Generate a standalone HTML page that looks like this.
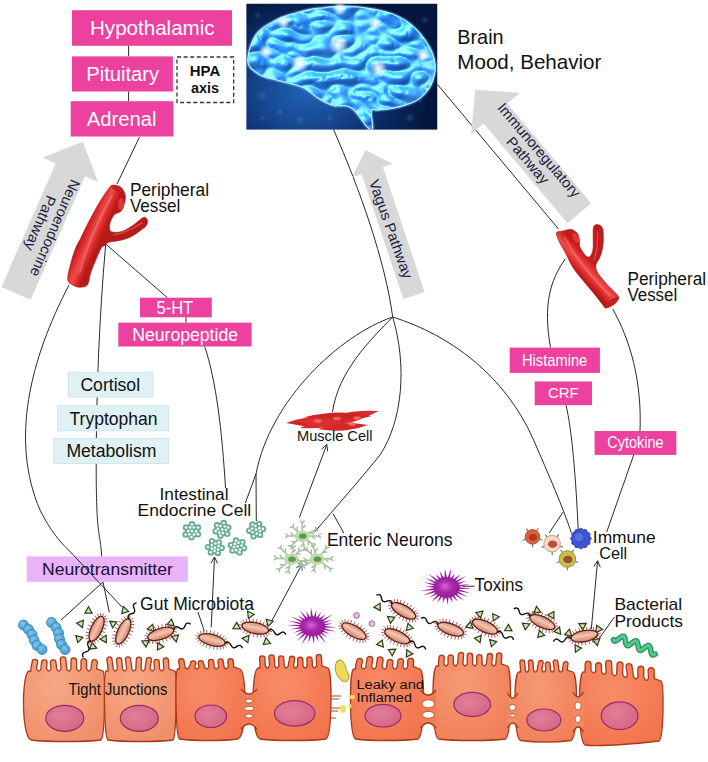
<!DOCTYPE html>
<html><head><meta charset="utf-8"><style>
html,body{margin:0;padding:0;background:#fff;}
body{width:708px;height:762px;overflow:hidden;font-family:"Liberation Sans",sans-serif;}
svg{display:block;}
</style></head><body>
<svg width="708" height="762" viewBox="0 0 708 762" font-family="Liberation Sans, sans-serif">
<rect width="708" height="762" fill="#fff"/>
<defs><linearGradient id="vg" x1="0" y1="0" x2="1" y2="0"><stop offset="0" stop-color="#b51a1a"/><stop offset="0.45" stop-color="#e83a3a"/><stop offset="0.6" stop-color="#f26a6a"/><stop offset="1" stop-color="#c42020"/></linearGradient></defs>
<path d="M128.6,45.8 L128.6,56.4" fill="none" stroke="#2a2a2a" stroke-width="1.0" />
<path d="M128.6,91.5 L128.6,101.2" fill="none" stroke="#2a2a2a" stroke-width="1.0" />
<path d="M139.5,137 L117,184" fill="none" stroke="#2a2a2a" stroke-width="1.0" />
<path d="M105.7,244 C 99,320 96,400 96.2,470 S 100,530 101.7,556.4" fill="none" stroke="#2a2a2a" stroke-width="1.0" />
<path d="M105.7,244 L167.4,297.7" fill="none" stroke="#2a2a2a" stroke-width="1.0" />
<path d="M186,317 L186,322.6" fill="none" stroke="#2a2a2a" stroke-width="1.0" />
<path d="M204.7,346.5 C 216,380 222,430 225.5,488" fill="none" stroke="#2a2a2a" stroke-width="1.0" />
<path d="M69,285 C 30,360 10,440 40,510 C 50,530 60,542 68.6,550" fill="none" stroke="#2a2a2a" stroke-width="1.0" />
<path d="M103,582 L61,620" fill="none" stroke="#2a2a2a" stroke-width="1.0" />
<path d="M103,582 L109.3,612.3" fill="none" stroke="#2a2a2a" stroke-width="1.0" />
<path d="M333.5,129.5 C 360,190 385,260 392.7,317 C 407,365 403,420 380,455 C 360,480 335,508 314.3,532.4" fill="none" stroke="#2a2a2a" stroke-width="1.0" />
<path d="M392.7,317 C 340,335 270,400 256,474 L245.3,503 M256,474 L256.3,521" fill="none" stroke="#2a2a2a" stroke-width="1.0" />
<path d="M392.7,317 C 370,340 338,372 332.5,412" fill="none" stroke="#2a2a2a" stroke-width="1.0" />
<path d="M392.7,317 C 450,335 505,375 533.6,440 C 550,478 562,505 571.4,532.8" fill="none" stroke="#2a2a2a" stroke-width="1.0" />
<path d="M563.3,511.8 L549.3,532.8" fill="none" stroke="#2a2a2a" stroke-width="1.0" />
<path d="M437.5,84.5 L558.5,229" fill="none" stroke="#2a2a2a" stroke-width="1.0" />
<path d="M565.4,258.8 C 550,280 543,305 550.5,347.6" fill="none" stroke="#2a2a2a" stroke-width="1.0" />
<path d="M566,405.2 C 572,430 576,480 578.3,531.8" fill="none" stroke="#2a2a2a" stroke-width="1.0" />
<path d="M612.7,308.9 C 630,340 642,380 640,431" fill="none" stroke="#2a2a2a" stroke-width="1.0" />
<path d="M633.7,455 L606.8,531.8" fill="none" stroke="#2a2a2a" stroke-width="1.0" />
<path d="M211.2,627.4 L214.5,557" fill="none" stroke="#2a2a2a" stroke-width="1.0" />
<path d="M210.9,563.0 L214.5,557.0 L217.5,563.3" fill="none" stroke="#2a2a2a" stroke-width="1.0" />
<path d="M270.4,623.6 L302.2,563.8" fill="none" stroke="#2a2a2a" stroke-width="1.0" />
<path d="M296.4,567.7 L302.2,563.8 L302.2,570.8" fill="none" stroke="#2a2a2a" stroke-width="1.0" />
<path d="M299.4,517.5 L326.8,444.5" fill="none" stroke="#2a2a2a" stroke-width="1.0" />
<path d="M321.6,449.1 L326.8,444.5 L327.7,451.4" fill="none" stroke="#2a2a2a" stroke-width="1.0" />
<path d="M591.3,629.1 L597.6,560.8" fill="none" stroke="#2a2a2a" stroke-width="1.0" />
<path d="M593.8,566.7 L597.6,560.8 L600.3,567.3" fill="none" stroke="#2a2a2a" stroke-width="1.0" />
<path d="M198,612 L204.3,631.2" fill="none" stroke="#2a2a2a" stroke-width="1.0" />
<path d="M333,513.6 L343.8,533" fill="none" stroke="#2a2a2a" stroke-width="1.0" />
<path d="M462.4,586.3 L474.6,586.3" fill="none" stroke="#2a2a2a" stroke-width="1.0" />
<path d="M614.4,617.1 L598,640" fill="none" stroke="#2a2a2a" stroke-width="1.0" />
<polygon points="30.6,299.7 85.0,176.3 98.2,182.1 82.7,141.8 42.5,157.6 55.7,163.4 1.4,286.9" fill="#D8D8D8"/>
<polygon points="424.5,291.9 382.8,166.9 392.4,163.7 365.4,150.1 352.0,177.2 361.6,174.0 403.3,298.9" fill="#D8D8D8"/>
<polygon points="591.2,203.2 507.3,103.6 519.9,93.0 475.3,89.7 470.9,134.2 483.5,123.5 567.4,223.2" fill="#D8D8D8"/>
<rect x="72.0" y="10.2" width="160.0" height="35.6" fill="#EC419F" />
<rect x="72.0" y="56.4" width="100.9" height="35.1" fill="#EC419F" />
<rect x="70.7" y="101.2" width="102.7" height="35.3" fill="#EC419F" />
<rect x="177" y="57" width="56.7" height="45.5" fill="#fff" stroke="#333" stroke-width="1.3" stroke-dasharray="4,2.6"/>
<rect x="140.0" y="297.7" width="71.8" height="19.6" fill="#EC419F" />
<rect x="118.3" y="322.6" width="133.3" height="23.9" fill="#EC419F" />
<rect x="68.5" y="372.2" width="84.4" height="24.80000000000001" fill="#DFF1F3" stroke="#CFE6EA" stroke-width="1"/>
<rect x="57.6" y="405.7" width="110.9" height="25.100000000000023" fill="#DFF1F3" stroke="#CFE6EA" stroke-width="1"/>
<rect x="53.5" y="438.4" width="115" height="25.100000000000023" fill="#DFF1F3" stroke="#CFE6EA" stroke-width="1"/>
<rect x="509.7" y="347.6" width="90.2" height="25.3" fill="#EC419F" />
<rect x="534.7" y="381.4" width="57.3" height="23.8" fill="#EC419F" />
<rect x="594.6" y="431.0" width="81.7" height="23.9" fill="#EC419F" />
<rect x="26.7" y="556.4" width="161.1" height="25.4" fill="#E8B3F8" />
<path d="M68.6,550 L122,607" fill="none" stroke="#2a2a2a" stroke-width="1.0" />
<defs>
<radialGradient id="bbg" gradientUnits="userSpaceOnUse" cx="305" cy="92" r="125" gradientTransform="translate(305 92) scale(1 0.8) translate(-305 -92)"><stop offset="0" stop-color="#2062b4"/><stop offset="0.35" stop-color="#16488f"/><stop offset="0.7" stop-color="#0a2962"/><stop offset="1" stop-color="#05173f"/></radialGradient>
<filter id="bt" x="246.2" y="3.5" width="191.3" height="126.30000000000001" filterUnits="userSpaceOnUse" color-interpolation-filters="sRGB">
  <feTurbulence type="turbulence" baseFrequency="0.045 0.07" numOctaves="1" seed="4" result="n"/>
  <feColorMatrix in="n" type="matrix" values="0 0 0 0 0  0 0 0 0 0  0 0 0 0 0  2 0 0 0 0" result="h0"/>
  <feGaussianBlur in="h0" stdDeviation="0.8" result="h"/>
  <feDiffuseLighting in="h" surfaceScale="4" diffuseConstant="1" lighting-color="#409ce8" result="d"><feDistantLight azimuth="235" elevation="45"/></feDiffuseLighting>
  <feSpecularLighting in="h" surfaceScale="4" specularConstant="0.45" specularExponent="12" lighting-color="#d8f4ff" result="s"><feDistantLight azimuth="235" elevation="45"/></feSpecularLighting>
  <feFlood flood-color="#1652a4" result="a"/>
  <feComposite in="d" in2="a" operator="arithmetic" k1="0" k2="0.75" k3="1" k4="0" result="b0"/>
  <feComposite in="s" in2="b0" operator="arithmetic" k1="0" k2="1" k3="1" k4="0" result="ds"/>
  <feComposite in="ds" in2="SourceGraphic" operator="in"/>
</filter>
<radialGradient id="bshade" gradientUnits="userSpaceOnUse" cx="335" cy="50" r="105"><stop offset="0" stop-color="#bfeaff" stop-opacity="0.12"/><stop offset="0.7" stop-color="#3a90e0" stop-opacity="0"/><stop offset="1" stop-color="#8fdcff" stop-opacity="0.35"/></radialGradient>
<radialGradient id="glow"><stop offset="0" stop-color="#ffffff" stop-opacity="1"/><stop offset="0.4" stop-color="#f4f8ff" stop-opacity="0.7"/><stop offset="1" stop-color="#ffffff" stop-opacity="0"/></radialGradient>
<radialGradient id="bok"><stop offset="0" stop-color="#6fa6e8" stop-opacity="0.25"/><stop offset="1" stop-color="#6fa6e8" stop-opacity="0"/></radialGradient>
<clipPath id="bclip"><rect x="246.2" y="3.5" width="191.3" height="126.30000000000001"/></clipPath>
</defs>
<g clip-path="url(#bclip)">
<rect x="246.2" y="3.5" width="191.3" height="126.30000000000001" fill="url(#bbg)"/>
<circle cx="262" cy="96" r="5" fill="url(#bok)"/>
<circle cx="280" cy="112" r="4" fill="url(#bok)"/>
<circle cx="300" cy="120" r="5" fill="url(#bok)"/>
<circle cx="330" cy="118" r="4" fill="url(#bok)"/>
<circle cx="410" cy="118" r="5" fill="url(#bok)"/>
<circle cx="425" cy="20" r="4" fill="url(#bok)"/>
<circle cx="258" cy="15" r="4" fill="url(#bok)"/>
<circle cx="420" cy="100" r="3" fill="url(#bok)"/>
<circle cx="262" cy="118" r="3" fill="url(#bok)"/>
<path d="M247.8,58.9 C248.1,54.7 249.2,49.9 250.9,45.1 C252.6,40.3 253.7,38.2 256.1,34.7 C258.5,31.2 260.0,30.1 263.1,27.7 C266.2,25.3 267.9,24.6 271.7,22.5 C275.5,20.4 277.2,19.2 282.1,17.3 C287.0,15.4 290.4,14.6 296.0,13.0 C301.6,11.4 304.4,10.5 309.9,9.5 C315.4,8.5 318.2,8.4 323.7,7.8 C329.2,7.2 330.9,6.5 337.6,6.3 C344.3,6.1 349.9,6.3 357.3,6.9 C364.7,7.5 367.8,8.1 374.7,9.5 C381.6,10.9 385.8,11.6 392.0,13.9 C398.2,16.2 401.0,17.7 405.9,20.8 C410.8,23.9 412.5,25.7 416.3,29.5 C420.1,33.3 421.8,35.4 424.9,39.9 C428.0,44.4 429.9,47.2 431.9,52.0 C433.9,56.8 434.5,59.6 435.0,64.1 C435.5,68.6 435.3,70.3 434.5,74.5 C433.7,78.7 432.9,81.1 431.0,84.9 C429.1,88.7 427.8,90.5 424.9,93.6 C422.0,96.7 420.1,98.2 416.3,100.5 C412.5,102.8 410.8,103.3 405.9,104.9 C401.0,106.5 397.6,107.3 392.0,108.3 C386.4,109.3 382.2,109.5 378.1,110.0 C374.0,110.5 372.6,107.4 371.5,111.0 C370.4,114.6 373.3,124.9 372.5,128.2 C371.7,131.5 371.8,131.4 367.7,127.4 C363.6,123.4 357.6,112.6 352.1,108.3 C346.6,104.0 343.6,106.2 340.0,105.7 C336.4,105.2 337.0,106.4 334.1,105.7 C331.2,105.0 329.0,104.0 325.5,102.3 C322.0,100.6 319.9,99.2 316.8,97.1 C313.7,95.0 312.7,93.8 309.9,91.9 C307.1,90.0 306.4,89.1 302.9,87.5 C299.4,85.9 297.3,85.5 292.5,84.1 C287.7,82.7 284.6,82.2 278.7,80.6 C272.8,79.0 268.0,78.2 263.1,76.3 C258.2,74.4 257.2,73.2 254.4,71.1 C251.6,69.0 250.5,68.3 249.2,65.9 C247.9,63.5 247.5,63.1 247.8,58.9 Z" fill="none" stroke="#5cc0ff" stroke-width="4" opacity="0.35"/>
<path d="M247.8,58.9 C248.1,54.7 249.2,49.9 250.9,45.1 C252.6,40.3 253.7,38.2 256.1,34.7 C258.5,31.2 260.0,30.1 263.1,27.7 C266.2,25.3 267.9,24.6 271.7,22.5 C275.5,20.4 277.2,19.2 282.1,17.3 C287.0,15.4 290.4,14.6 296.0,13.0 C301.6,11.4 304.4,10.5 309.9,9.5 C315.4,8.5 318.2,8.4 323.7,7.8 C329.2,7.2 330.9,6.5 337.6,6.3 C344.3,6.1 349.9,6.3 357.3,6.9 C364.7,7.5 367.8,8.1 374.7,9.5 C381.6,10.9 385.8,11.6 392.0,13.9 C398.2,16.2 401.0,17.7 405.9,20.8 C410.8,23.9 412.5,25.7 416.3,29.5 C420.1,33.3 421.8,35.4 424.9,39.9 C428.0,44.4 429.9,47.2 431.9,52.0 C433.9,56.8 434.5,59.6 435.0,64.1 C435.5,68.6 435.3,70.3 434.5,74.5 C433.7,78.7 432.9,81.1 431.0,84.9 C429.1,88.7 427.8,90.5 424.9,93.6 C422.0,96.7 420.1,98.2 416.3,100.5 C412.5,102.8 410.8,103.3 405.9,104.9 C401.0,106.5 397.6,107.3 392.0,108.3 C386.4,109.3 382.2,109.5 378.1,110.0 C374.0,110.5 372.6,107.4 371.5,111.0 C370.4,114.6 373.3,124.9 372.5,128.2 C371.7,131.5 371.8,131.4 367.7,127.4 C363.6,123.4 357.6,112.6 352.1,108.3 C346.6,104.0 343.6,106.2 340.0,105.7 C336.4,105.2 337.0,106.4 334.1,105.7 C331.2,105.0 329.0,104.0 325.5,102.3 C322.0,100.6 319.9,99.2 316.8,97.1 C313.7,95.0 312.7,93.8 309.9,91.9 C307.1,90.0 306.4,89.1 302.9,87.5 C299.4,85.9 297.3,85.5 292.5,84.1 C287.7,82.7 284.6,82.2 278.7,80.6 C272.8,79.0 268.0,78.2 263.1,76.3 C258.2,74.4 257.2,73.2 254.4,71.1 C251.6,69.0 250.5,68.3 249.2,65.9 C247.9,63.5 247.5,63.1 247.8,58.9 Z" fill="#000" filter="url(#bt)"/>
<path d="M247.8,58.9 C248.1,54.7 249.2,49.9 250.9,45.1 C252.6,40.3 253.7,38.2 256.1,34.7 C258.5,31.2 260.0,30.1 263.1,27.7 C266.2,25.3 267.9,24.6 271.7,22.5 C275.5,20.4 277.2,19.2 282.1,17.3 C287.0,15.4 290.4,14.6 296.0,13.0 C301.6,11.4 304.4,10.5 309.9,9.5 C315.4,8.5 318.2,8.4 323.7,7.8 C329.2,7.2 330.9,6.5 337.6,6.3 C344.3,6.1 349.9,6.3 357.3,6.9 C364.7,7.5 367.8,8.1 374.7,9.5 C381.6,10.9 385.8,11.6 392.0,13.9 C398.2,16.2 401.0,17.7 405.9,20.8 C410.8,23.9 412.5,25.7 416.3,29.5 C420.1,33.3 421.8,35.4 424.9,39.9 C428.0,44.4 429.9,47.2 431.9,52.0 C433.9,56.8 434.5,59.6 435.0,64.1 C435.5,68.6 435.3,70.3 434.5,74.5 C433.7,78.7 432.9,81.1 431.0,84.9 C429.1,88.7 427.8,90.5 424.9,93.6 C422.0,96.7 420.1,98.2 416.3,100.5 C412.5,102.8 410.8,103.3 405.9,104.9 C401.0,106.5 397.6,107.3 392.0,108.3 C386.4,109.3 382.2,109.5 378.1,110.0 C374.0,110.5 372.6,107.4 371.5,111.0 C370.4,114.6 373.3,124.9 372.5,128.2 C371.7,131.5 371.8,131.4 367.7,127.4 C363.6,123.4 357.6,112.6 352.1,108.3 C346.6,104.0 343.6,106.2 340.0,105.7 C336.4,105.2 337.0,106.4 334.1,105.7 C331.2,105.0 329.0,104.0 325.5,102.3 C322.0,100.6 319.9,99.2 316.8,97.1 C313.7,95.0 312.7,93.8 309.9,91.9 C307.1,90.0 306.4,89.1 302.9,87.5 C299.4,85.9 297.3,85.5 292.5,84.1 C287.7,82.7 284.6,82.2 278.7,80.6 C272.8,79.0 268.0,78.2 263.1,76.3 C258.2,74.4 257.2,73.2 254.4,71.1 C251.6,69.0 250.5,68.3 249.2,65.9 C247.9,63.5 247.5,63.1 247.8,58.9 Z" fill="url(#bshade)" stroke="#b6ecff" stroke-width="1.3"/>
<circle cx="338.3" cy="44.5" r="10" fill="url(#glow)"/>
<circle cx="299.8" cy="63.8" r="9" fill="url(#glow)"/>
<circle cx="265.7" cy="51.9" r="7" fill="url(#glow)"/>
<circle cx="378.4" cy="68.2" r="9" fill="url(#glow)"/>
<circle cx="283.5" cy="22.2" r="7" fill="url(#glow)"/>
<circle cx="375.4" cy="23.7" r="7" fill="url(#glow)"/>
<circle cx="422.9" cy="54.9" r="7" fill="url(#glow)"/>
<circle cx="339.8" cy="8.9" r="7" fill="url(#glow)"/>
</g>
<defs>
<linearGradient id="vgl" gradientUnits="userSpaceOnUse" x1="79" y1="239" x2="97" y2="247"><stop offset="0" stop-color="#b01616"/><stop offset="0.22" stop-color="#d82626"/><stop offset="0.55" stop-color="#ee4c4c"/><stop offset="0.75" stop-color="#e02e2e"/><stop offset="1" stop-color="#b81a1a"/></linearGradient>
<linearGradient id="vgr" gradientUnits="userSpaceOnUse" x1="578" y1="275" x2="592" y2="262"><stop offset="0" stop-color="#b01616"/><stop offset="0.25" stop-color="#d82626"/><stop offset="0.55" stop-color="#ee4c4c"/><stop offset="0.78" stop-color="#e02e2e"/><stop offset="1" stop-color="#c01c1c"/></linearGradient>
</defs>
<path d="M67.7,279.5 C67.3,275.7 69.7,267.9 71.0,262.6 C72.3,257.4 74.0,252.2 75.7,248.0 C77.4,243.8 79.4,240.7 81.0,237.5 C82.6,234.3 83.8,231.7 85.2,228.8 C86.6,225.9 87.8,223.6 89.6,220.2 C91.4,216.8 93.7,212.3 96.0,208.3 C98.3,204.3 101.3,199.4 103.3,196.3 C105.3,193.2 106.6,191.3 108.0,189.5 C109.4,187.7 110.3,185.8 111.6,185.3 C112.9,184.8 114.5,186.0 116.0,186.5 C117.5,187.0 119.2,187.8 120.5,188.5 C121.8,189.2 122.7,189.5 123.5,190.8 C124.3,192.1 125.2,194.2 125.4,196.3 C125.6,198.5 124.9,201.6 124.4,203.7 C123.9,205.8 123.2,207.6 122.5,209.0 C121.8,210.4 121.2,211.1 119.9,212.0 C118.6,212.9 115.9,213.2 114.4,214.7 C112.9,216.2 111.5,219.0 110.7,221.1 C109.9,223.2 109.4,225.7 109.5,227.5 C109.6,229.3 109.5,231.1 111.5,231.8 C113.5,232.5 118.2,232.7 121.7,231.6 C125.2,230.5 129.3,227.7 132.7,225.5 C136.1,223.3 139.8,219.5 141.9,218.2 C144.1,216.9 144.7,217.0 145.6,217.6 C146.5,218.2 147.5,220.1 147.6,221.5 C147.7,222.9 146.9,224.7 146.0,226.0 C145.1,227.3 144.4,227.6 141.9,229.4 C139.4,231.2 134.6,234.9 130.9,236.7 C127.2,238.5 123.6,239.5 119.9,240.4 C116.2,241.3 111.5,241.3 108.9,242.2 C106.3,243.0 105.8,244.5 104.5,245.5 C103.2,246.5 102.5,245.8 101.0,248.4 C99.5,251.0 97.1,256.9 95.4,261.0 C93.7,265.1 92.0,268.8 90.7,272.8 C89.4,276.8 89.2,282.4 87.5,284.8 C85.8,287.2 82.8,287.1 80.5,287.2 C78.2,287.3 75.5,286.7 73.4,285.4 C71.3,284.1 68.1,283.3 67.7,279.5 Z" fill="url(#vgl)" stroke="#a81414" stroke-width="0.6"/>
<path d="M80,272 C 86,250 95,225 112,196" fill="none" stroke="#f47a7a" stroke-width="2" opacity="0.55" stroke-linecap="round"/>
<path d="M114,235 C 124,233 134,228 142,223" fill="none" stroke="#f06a6a" stroke-width="1.5" opacity="0.5" stroke-linecap="round"/>
<ellipse cx="117.5" cy="188.5" rx="6.5" ry="3" fill="#c42020" transform="rotate(25 117.5 188.5)"/>
<ellipse cx="121" cy="204" rx="3" ry="6" fill="#ee3a3a" opacity="0.8"/>
<path d="M556.4,232.7 C555.6,234.2 557.6,237.8 558.5,240.0 C559.4,242.2 560.2,243.7 561.5,246.0 C562.8,248.3 564.1,250.5 566.0,254.0 C567.9,257.5 569.6,262.4 572.6,267.0 C575.6,271.6 580.1,276.9 583.9,281.6 C587.7,286.3 592.1,291.4 595.2,295.2 C598.3,299.0 600.8,302.4 602.5,304.5 C604.2,306.6 604.2,307.8 605.5,308.0 C606.8,308.2 608.2,306.6 610.0,305.5 C611.8,304.4 614.5,302.4 616.0,301.2 C617.5,299.9 618.5,298.9 618.8,298.0 C619.1,297.1 618.9,296.9 617.8,295.5 C616.7,294.1 613.9,291.4 612.0,289.5 C610.1,287.6 608.2,285.8 606.5,283.9 C604.8,282.0 603.0,279.9 601.5,278.0 C600.0,276.1 598.5,274.4 597.5,272.6 C596.5,270.9 596.0,269.1 595.8,267.5 C595.6,265.9 596.0,264.3 596.5,263.0 C597.0,261.7 598.0,261.2 598.8,259.5 C599.6,257.8 600.7,255.4 601.4,253.0 C602.1,250.6 602.7,247.7 603.0,245.0 C603.3,242.3 603.4,239.6 603.4,237.0 C603.4,234.4 603.2,231.3 602.8,229.5 C602.4,227.7 601.9,226.8 601.0,226.0 C600.1,225.2 598.6,224.7 597.5,224.6 C596.4,224.5 595.2,224.8 594.5,225.5 C593.8,226.2 593.4,227.1 593.2,229.0 C593.0,230.9 593.2,234.2 593.2,237.0 C593.2,239.8 593.3,243.6 593.2,246.0 C593.1,248.4 593.1,249.7 592.5,251.5 C591.9,253.3 590.9,256.1 589.8,256.8 C588.7,257.6 587.2,256.9 586.0,256.0 C584.8,255.1 583.5,253.1 582.5,251.5 C581.5,249.9 580.3,248.4 579.8,246.5 C579.3,244.6 579.7,242.3 579.4,240.3 C579.1,238.3 578.8,236.0 578.0,234.4 C577.2,232.8 575.8,231.8 574.5,231.0 C573.2,230.2 572.2,229.3 570.3,229.3 C568.4,229.3 565.3,230.4 563.0,231.0 C560.7,231.6 557.1,231.2 556.4,232.7 Z" fill="url(#vgr)" stroke="#a81414" stroke-width="0.6"/>
<path d="M565,238 C 575,256 590,276 610,296" fill="none" stroke="#f47a7a" stroke-width="2" opacity="0.55" stroke-linecap="round"/>
<path d="M597.5,232 C 598,242 597,252 594,260" fill="none" stroke="#f06a6a" stroke-width="1.5" opacity="0.5" stroke-linecap="round"/>
<ellipse cx="612" cy="302.5" rx="8.5" ry="3" fill="#c42020" transform="rotate(-38 612 302.5)"/>
<ellipse cx="576" cy="238" rx="3" ry="5.5" fill="#ee3a3a" opacity="0.8" transform="rotate(-30 576 238)"/>
<defs>
<radialGradient id="c1" cx="0.4" cy="0.35" r="0.75"><stop offset="0" stop-color="#f6a886"/><stop offset="1" stop-color="#f08e68"/></radialGradient>
<radialGradient id="c2" cx="0.4" cy="0.35" r="0.75"><stop offset="0" stop-color="#f78d68"/><stop offset="1" stop-color="#f2734c"/></radialGradient>
<radialGradient id="c3" cx="0.4" cy="0.35" r="0.75"><stop offset="0" stop-color="#f69a76"/><stop offset="1" stop-color="#f17e58"/></radialGradient>
<radialGradient id="nu" cx="0.4" cy="0.4" r="0.7"><stop offset="0" stop-color="#e28098"/><stop offset="1" stop-color="#d46484"/></radialGradient>
</defs>
<path d="M29.0,671.0 L31.0,671.0 L31.0,668.8 C31.0,666.4 32.1,663.2 32.1,662.2 A2.8,2.8 0 0 1 37.7,662.2 C37.7,663.2 36.6,666.4 36.6,668.8 Q38.8,673.2 41.0,668.8 L41.0,668.8 C41.0,666.5 41.5,663.6 41.5,662.6 A2.8,2.8 0 0 1 47.1,662.6 C47.1,663.6 46.6,666.5 46.6,668.8 Q48.8,673.2 51.0,668.8 L51.0,668.8 C51.0,666.6 50.4,663.7 50.4,662.7 A2.8,2.8 0 0 1 56.0,662.7 C56.0,663.7 56.6,666.6 56.6,668.8 Q58.8,673.2 61.0,668.8 L61.0,668.8 C61.0,665.3 60.3,660.6 60.3,659.6 A2.8,2.8 0 0 1 65.9,659.6 C65.9,660.6 66.6,665.3 66.6,668.8 Q68.8,673.2 71.0,668.8 L71.0,668.8 C71.0,665.8 70.9,661.8 70.9,660.8 A2.8,2.8 0 0 1 76.5,660.8 C76.5,661.8 76.6,665.8 76.6,668.8 Q78.8,673.2 81.0,668.8 L81.0,668.8 C81.0,666.1 81.0,662.5 81.0,661.5 A2.8,2.8 0 0 1 86.6,661.5 C86.6,662.5 86.6,666.1 86.6,668.8 Q88.8,673.2 91.0,668.8 L91.0,668.8 C91.0,666.4 91.8,663.4 91.8,662.4 A2.8,2.8 0 0 1 97.4,662.4 C97.4,663.4 96.6,666.4 96.6,668.8 L103.0,671.0 C105.3,673.0 105.3,736.0 101.0,740.0 C85.0,742.0 47.0,742.0 31.0,740.0 C21.1,736.0 21.6,673.0 29.0,671.0 Z" fill="url(#c1)" stroke="#a83a1a" stroke-width="1.3" stroke-linejoin="round"/>
<path d="M106.0,671.0 L108.0,671.0 L108.0,669.0 C108.0,665.4 106.8,660.5 106.8,659.5 A2.6,2.6 0 0 1 112.0,659.5 C112.0,660.5 113.2,665.4 113.2,669.0 Q115.2,673.0 117.3,669.0 L117.3,669.0 C117.3,665.7 116.5,661.3 116.5,660.3 A2.6,2.6 0 0 1 121.7,660.3 C121.7,661.3 122.5,665.7 122.5,669.0 Q124.5,673.0 126.6,669.0 L126.6,669.0 C126.6,665.3 125.4,660.5 125.4,659.5 A2.6,2.6 0 0 1 130.6,659.5 C130.6,660.5 131.8,665.3 131.8,669.0 Q133.8,673.0 135.9,669.0 L135.9,669.0 C135.9,665.5 136.3,660.8 136.3,659.8 A2.6,2.6 0 0 1 141.5,659.8 C141.5,660.8 141.1,665.5 141.1,669.0 Q143.1,673.0 145.1,669.0 L145.1,669.0 C145.1,665.5 146.3,660.9 146.3,659.9 A2.6,2.6 0 0 1 151.5,659.9 C151.5,660.9 150.3,665.5 150.3,669.0 Q152.4,673.0 154.4,669.0 L154.4,669.0 C154.4,666.4 154.0,663.0 154.0,662.0 A2.6,2.6 0 0 1 159.2,662.0 C159.2,663.0 159.6,666.4 159.6,669.0 Q161.7,673.0 163.7,669.0 L163.7,669.0 C163.7,665.7 163.2,661.4 163.2,660.4 A2.6,2.6 0 0 1 168.4,660.4 C168.4,661.4 168.9,665.7 168.9,669.0 L175.0,671.0 C176.7,673.0 176.7,736.0 173.0,740.0 C157.0,742.0 124.0,742.0 108.0,740.0 C103.7,736.0 103.7,673.0 106.0,671.0 Z" fill="url(#c1)" stroke="#a83a1a" stroke-width="1.3" stroke-linejoin="round"/>
<path d="M177.5,669.0 L179.5,669.0 L179.5,666.9 C179.5,664.8 178.6,662.3 178.6,661.3 A2.7,2.7 0 0 1 184.1,661.3 C184.1,662.3 185.0,664.8 185.0,666.9 Q187.1,671.1 189.2,666.9 L189.2,666.9 C189.2,665.8 190.4,664.7 190.4,663.7 A2.7,2.7 0 0 1 195.9,663.7 C195.9,664.7 194.7,665.8 194.7,666.9 Q196.9,671.1 199.0,666.9 L199.0,666.9 C199.0,665.6 198.1,664.3 198.1,663.3 A2.7,2.7 0 0 1 203.5,663.3 C203.5,664.3 204.5,665.6 204.5,666.9 Q206.6,671.1 208.8,666.9 L208.8,666.9 C208.8,665.1 208.4,663.1 208.4,662.1 A2.7,2.7 0 0 1 213.8,662.1 C213.8,663.1 214.2,665.1 214.2,666.9 Q216.4,671.1 218.5,666.9 L218.5,666.9 C218.5,664.9 217.9,662.5 217.9,661.5 A2.7,2.7 0 0 1 223.3,661.5 C223.3,662.5 224.0,664.9 224.0,666.9 Q226.1,671.1 228.2,666.9 L228.2,666.9 C228.2,664.8 227.8,662.3 227.8,661.3 A2.7,2.7 0 0 1 233.3,661.3 C233.3,662.3 233.7,664.8 233.7,666.9 L240.0,669.0 C246.8,671.0 247.2,735.0 238.0,739.0 C222.0,741.0 195.5,741.0 179.5,739.0 C175.2,735.0 175.2,671.0 177.5,669.0 Z" fill="url(#c2)" stroke="#a83a1a" stroke-width="1.3" stroke-linejoin="round"/>
<path d="M258.0,668.0 L260.0,668.0 L260.0,665.9 C260.0,663.1 259.6,659.5 259.6,658.5 A2.6,2.6 0 0 1 264.9,658.5 C264.9,659.5 265.3,663.1 265.3,665.9 Q267.4,670.1 269.4,665.9 L269.4,665.9 C269.4,662.7 268.9,658.5 268.9,657.5 A2.6,2.6 0 0 1 274.2,657.5 C274.2,658.5 274.7,662.7 274.7,665.9 Q276.8,670.1 278.9,665.9 L278.9,665.9 C278.9,663.2 278.5,659.6 278.5,658.6 A2.6,2.6 0 0 1 283.8,658.6 C283.8,659.6 284.1,663.2 284.1,665.9 Q286.2,670.1 288.3,665.9 L288.3,665.9 C288.3,663.3 289.4,659.9 289.4,658.9 A2.6,2.6 0 0 1 294.7,658.9 C294.7,659.9 293.6,663.3 293.6,665.9 Q295.6,670.1 297.7,665.9 L297.7,665.9 C297.7,663.7 297.6,660.9 297.6,659.9 A2.6,2.6 0 0 1 302.9,659.9 C302.9,660.9 303.0,663.7 303.0,665.9 Q305.1,670.1 307.1,665.9 L307.1,665.9 C307.1,663.5 306.8,660.5 306.8,659.5 A2.6,2.6 0 0 1 312.1,659.5 C312.1,660.5 312.4,663.5 312.4,665.9 Q314.5,670.1 316.6,665.9 L316.6,665.9 C316.6,662.5 316.2,658.0 316.2,657.0 A2.6,2.6 0 0 1 321.4,657.0 C321.4,658.0 321.9,662.5 321.9,665.9 L328.0,668.0 C332.2,670.0 332.4,735.0 326.0,739.0 C310.0,741.0 276.0,741.0 260.0,739.0 C250.8,735.0 251.2,670.0 258.0,668.0 Z" fill="url(#c2)" stroke="#a83a1a" stroke-width="1.3" stroke-linejoin="round"/>
<path d="M353.5,669.0 L355.5,669.0 L355.5,666.7 C355.5,664.8 356.7,662.3 356.7,661.3 A2.9,2.9 0 0 1 362.5,661.3 C362.5,662.3 361.3,664.8 361.3,666.7 Q363.6,671.3 365.9,666.7 L365.9,666.7 C365.9,664.0 366.9,660.4 366.9,659.4 A2.9,2.9 0 0 1 372.8,659.4 C372.8,660.4 371.7,664.0 371.7,666.7 Q374.0,671.3 376.3,666.7 L376.3,666.7 C376.3,664.2 377.2,660.9 377.2,659.9 A2.9,2.9 0 0 1 383.1,659.9 C383.1,660.9 382.2,664.2 382.2,666.7 Q384.5,671.3 386.7,666.7 L386.7,666.7 C386.7,665.2 387.1,663.3 387.1,662.3 A2.9,2.9 0 0 1 392.9,662.3 C392.9,663.3 392.6,665.2 392.6,666.7 Q394.9,671.3 397.2,666.7 L397.2,666.7 C397.2,664.9 397.7,662.6 397.7,661.6 A2.9,2.9 0 0 1 403.6,661.6 C403.6,662.6 403.0,664.9 403.0,666.7 Q405.3,671.3 407.6,666.7 L407.6,666.7 C407.6,664.6 407.7,662.0 407.7,661.0 A2.9,2.9 0 0 1 413.6,661.0 C413.6,662.0 413.4,664.6 413.4,666.7 L420.0,669.0 C424.9,671.0 425.1,735.0 418.0,739.0 C402.0,741.0 371.5,741.0 355.5,739.0 C349.1,735.0 349.3,671.0 353.5,669.0 Z" fill="url(#c2)" stroke="#a83a1a" stroke-width="1.3" stroke-linejoin="round"/>
<path d="M436.5,666.0 L438.5,666.0 L438.5,663.9 C438.5,661.5 439.0,658.3 439.0,657.3 A2.7,2.7 0 0 1 444.3,657.3 C444.3,658.3 443.9,661.5 443.9,663.9 Q446.0,668.1 448.1,663.9 L448.1,663.9 C448.1,661.3 448.0,658.0 448.0,657.0 A2.7,2.7 0 0 1 453.3,657.0 C453.3,658.0 453.4,661.3 453.4,663.9 Q455.5,668.1 457.6,663.9 L457.6,663.9 C457.6,660.6 458.3,656.1 458.3,655.1 A2.7,2.7 0 0 1 463.7,655.1 C463.7,656.1 463.0,660.6 463.0,663.9 Q465.1,668.1 467.2,663.9 L467.2,663.9 C467.2,660.9 467.2,656.9 467.2,655.9 A2.7,2.7 0 0 1 472.6,655.9 C472.6,656.9 472.6,660.9 472.6,663.9 Q474.7,668.1 476.8,663.9 L476.8,663.9 C476.8,661.5 476.6,658.4 476.6,657.4 A2.7,2.7 0 0 1 482.0,657.4 C482.0,658.4 482.1,661.5 482.1,663.9 Q484.3,668.1 486.4,663.9 L486.4,663.9 C486.4,661.0 487.2,657.2 487.2,656.2 A2.7,2.7 0 0 1 492.6,656.2 C492.6,657.2 491.7,661.0 491.7,663.9 Q493.8,668.1 495.9,663.9 L495.9,663.9 C495.9,660.8 496.5,656.6 496.5,655.6 A2.7,2.7 0 0 1 501.9,655.6 C501.9,656.6 501.3,660.8 501.3,663.9 L507.5,666.0 C511.7,668.0 511.9,735.0 505.5,739.0 C489.5,741.0 454.5,741.0 438.5,739.0 C431.4,735.0 431.6,668.0 436.5,666.0 Z" fill="url(#c3)" stroke="#a83a1a" stroke-width="1.3" stroke-linejoin="round"/>
<path d="M518.5,672.0 L520.5,672.0 L520.5,670.1 C520.5,667.2 519.9,663.3 519.9,662.3 A2.4,2.4 0 0 1 524.7,662.3 C524.7,663.3 525.2,667.2 525.2,670.1 Q527.1,673.9 528.9,670.1 L528.9,670.1 C528.9,667.0 528.3,662.9 528.3,661.9 A2.4,2.4 0 0 1 533.0,661.9 C533.0,662.9 533.6,667.0 533.6,670.1 Q535.5,673.9 537.3,670.1 L537.3,670.1 C537.3,667.2 538.5,663.4 538.5,662.4 A2.4,2.4 0 0 1 543.2,662.4 C543.2,663.4 542.0,667.2 542.0,670.1 Q543.9,673.9 545.8,670.1 L545.8,670.1 C545.8,667.7 545.3,664.7 545.3,663.7 A2.4,2.4 0 0 1 550.0,663.7 C550.0,664.7 550.5,667.7 550.5,670.1 Q552.3,673.9 554.2,670.1 L554.2,670.1 C554.2,667.0 553.2,662.8 553.2,661.8 A2.4,2.4 0 0 1 557.9,661.8 C557.9,662.8 558.9,667.0 558.9,670.1 Q560.7,673.9 562.6,670.1 L562.6,670.1 C562.6,667.6 563.4,664.5 563.4,663.5 A2.4,2.4 0 0 1 568.1,663.5 C568.1,664.5 567.3,667.6 567.3,670.1 L573.0,672.0 C577.9,674.0 578.1,736.5 571.0,740.5 C555.0,742.5 536.5,742.5 520.5,740.5 C513.4,736.5 513.6,674.0 518.5,672.0 Z" fill="url(#c3)" stroke="#a83a1a" stroke-width="1.3" stroke-linejoin="round"/>
<path d="M583.0,672.0 L585.0,672.0 L585.0,669.7 C585.0,667.5 585.2,664.6 585.2,663.6 A3.0,3.0 0 0 1 591.1,663.6 C591.1,664.6 590.9,667.5 590.9,669.7 Q593.2,675.1 595.6,671.2 L595.6,671.2 C595.6,669.0 595.6,666.2 595.6,665.2 A3.0,3.0 0 0 1 601.5,665.2 C601.5,666.2 601.5,669.0 601.5,671.2 Q603.8,676.6 606.1,672.7 L606.1,672.7 C606.1,669.2 605.6,664.3 605.6,663.3 A3.0,3.0 0 0 1 611.6,663.3 C611.6,664.3 612.1,669.2 612.1,672.7 Q614.4,678.1 616.7,674.2 L616.7,674.2 C616.7,670.7 617.0,665.9 617.0,664.9 A3.0,3.0 0 0 1 623.0,664.9 C623.0,665.9 622.6,670.7 622.6,674.2 Q625.0,679.6 627.3,675.7 L627.3,675.7 C627.3,672.3 626.1,667.7 626.1,666.7 A3.0,3.0 0 0 1 632.1,666.7 C632.1,667.7 633.2,672.3 633.2,675.7 Q635.5,681.1 637.9,677.2 L637.9,677.2 C637.9,674.0 637.9,669.7 637.9,668.7 A3.0,3.0 0 0 1 643.8,668.7 C643.8,669.7 643.8,674.0 643.8,677.2 Q646.1,682.6 648.4,678.7 L648.4,678.7 C648.4,675.7 648.1,671.6 648.1,670.6 A3.0,3.0 0 0 1 654.1,670.6 C654.1,671.6 654.3,675.7 654.3,678.7 L661.0,681.0 C664.0,683.0 664.0,737.0 659.0,741.0 C643.0,743.0 601.0,747.0 585.0,745.0 C577.9,741.0 578.1,674.0 583.0,672.0 Z" fill="url(#c2)" stroke="#a83a1a" stroke-width="1.3" stroke-linejoin="round"/>
<path d="M241,689 Q249.0,699 257,689 L257,729 Q249.0,719 241,729 Z" fill="#f47c55"/>
<path d="M241,689 Q249.0,699 257,689 M241,729 Q249.0,719 257,729" fill="none" stroke="#a83a1a" stroke-width="1.3"/>
<path d="M420.5,690 Q428.25,700 436,690 L436,728 Q428.25,718 420.5,728 Z" fill="#f47c55"/>
<path d="M420.5,690 Q428.25,700 436,690 M420.5,728 Q428.25,718 436,728" fill="none" stroke="#a83a1a" stroke-width="1.3"/>
<path d="M507.5,693 Q512.75,703 518,693 L518,728 Q512.75,718 507.5,728 Z" fill="#f38a62"/>
<path d="M507.5,693 Q512.75,703 518,693 M507.5,728 Q512.75,718 518,728" fill="none" stroke="#a83a1a" stroke-width="1.3"/>
<path d="M573,692 Q578.25,702 583.5,692 L583.5,732 Q578.25,722 573,732 Z" fill="#f38a62"/>
<path d="M573,692 Q578.25,702 583.5,692 M573,732 Q578.25,722 583.5,732" fill="none" stroke="#a83a1a" stroke-width="1.3"/>
<ellipse cx="64.8" cy="718.3" rx="19" ry="13" fill="url(#nu)" stroke="#9a2c68" stroke-width="1.2"/>
<ellipse cx="139.3" cy="718.3" rx="19" ry="13" fill="url(#nu)" stroke="#9a2c68" stroke-width="1.2"/>
<ellipse cx="210.8" cy="716.3" rx="15.8" ry="11.3" fill="url(#nu)" stroke="#9a2c68" stroke-width="1.2"/>
<ellipse cx="294.7" cy="713.4" rx="20.2" ry="12.7" fill="url(#nu)" stroke="#9a2c68" stroke-width="1.2"/>
<ellipse cx="383" cy="715.7" rx="18" ry="11.3" fill="url(#nu)" stroke="#9a2c68" stroke-width="1.2"/>
<ellipse cx="472.2" cy="704.4" rx="18.4" ry="12" fill="url(#nu)" stroke="#9a2c68" stroke-width="1.2"/>
<ellipse cx="543.9" cy="720" rx="17" ry="11" fill="url(#nu)" stroke="#9a2c68" stroke-width="1.2"/>
<ellipse cx="619.6" cy="715.7" rx="18.4" ry="13.8" fill="url(#nu)" stroke="#9a2c68" stroke-width="1.2"/>
<ellipse cx="249" cy="701" rx="4" ry="2" fill="#fff" stroke="#b5401c" stroke-width="0.8"/>
<ellipse cx="249" cy="708.5" rx="4.5" ry="2.2" fill="#fff" stroke="#b5401c" stroke-width="0.8"/>
<ellipse cx="249" cy="716" rx="4" ry="2" fill="#fff" stroke="#b5401c" stroke-width="0.8"/>
<ellipse cx="428.3" cy="703.8" rx="6.3" ry="4" fill="#fff" stroke="#b5401c" stroke-width="0.8"/>
<ellipse cx="428.3" cy="714.8" rx="6" ry="3.4" fill="#fff" stroke="#b5401c" stroke-width="0.8"/>
<ellipse cx="512.5" cy="707.5" rx="3.5" ry="3" fill="#fff" stroke="#b5401c" stroke-width="0.8"/>
<ellipse cx="512.5" cy="715.5" rx="3" ry="1.5" fill="#fff" stroke="#b5401c" stroke-width="0.8"/>
<ellipse cx="578" cy="706" rx="3.2" ry="4" fill="#fff" stroke="#b5401c" stroke-width="0.8"/>
<ellipse cx="578" cy="719" rx="3" ry="3.5" fill="#fff" stroke="#b5401c" stroke-width="0.8"/>
<path d="M331,696 L341,696 M331,699 L339,699 M331,708 L340,708 M331,711 L338,711 M331,718 L336,718" stroke="#b5401c" stroke-width="1"/>
<path d="M337,661 C 333,668 336,676 342,681 C 347,684 351,678 348,673 C 345,669 346,663 341,660 Z" fill="#ecd85a" stroke="#a89428" stroke-width="1"/>
<ellipse cx="352" cy="697" rx="3" ry="2" fill="#f0de5a"/><ellipse cx="343" cy="709" rx="3" ry="4" fill="#f0de5a"/><ellipse cx="350" cy="706" rx="1.5" ry="2.5" fill="#f0de5a"/>
<defs><linearGradient id="bg1" x1="0" y1="0" x2="0" y2="1"><stop offset="0" stop-color="#d98570"/><stop offset="0.45" stop-color="#f3c6b0"/><stop offset="1" stop-color="#d47c66"/></linearGradient></defs>
<polygon points="88.5,606.8 92.1,613.1 84.9,613.1" fill="#d4e6b0" stroke="#2c3a1c" stroke-width="1.2"/>
<polygon points="83.4,620.3 82.5,627.6 76.7,623.2" fill="#d4e6b0" stroke="#2c3a1c" stroke-width="1.2"/>
<polygon points="82.8,637.3 77.8,642.6 75.8,635.6" fill="#d4e6b0" stroke="#2c3a1c" stroke-width="1.2"/>
<polygon points="96.7,648.1 89.5,649.2 92.1,642.5" fill="#d4e6b0" stroke="#2c3a1c" stroke-width="1.2"/>
<polygon points="106.2,635.3 106.4,642.6 100.0,639.1" fill="#d4e6b0" stroke="#2c3a1c" stroke-width="1.2"/>
<polygon points="116.9,621.9 112.7,627.9 109.7,621.3" fill="#d4e6b0" stroke="#2c3a1c" stroke-width="1.2"/>
<polygon points="128.7,611.4 121.8,613.6 123.3,606.5" fill="#d4e6b0" stroke="#2c3a1c" stroke-width="1.2"/>
<polygon points="152.7,624.3 154.1,631.5 147.2,629.1" fill="#d4e6b0" stroke="#2c3a1c" stroke-width="1.2"/>
<polygon points="149.2,640.5 146.0,647.0 141.9,641.0" fill="#d4e6b0" stroke="#2c3a1c" stroke-width="1.2"/>
<polygon points="163.9,646.8 157.4,650.1 157.8,642.9" fill="#d4e6b0" stroke="#2c3a1c" stroke-width="1.2"/>
<polygon points="171.6,619.1 174.1,625.9 167.0,624.6" fill="#d4e6b0" stroke="#2c3a1c" stroke-width="1.2"/>
<polygon points="178.5,634.8 176.3,641.8 171.4,636.5" fill="#d4e6b0" stroke="#2c3a1c" stroke-width="1.2"/>
<polygon points="254.3,614.3 248.4,618.5 247.6,611.3" fill="#d4e6b0" stroke="#2c3a1c" stroke-width="1.2"/>
<polygon points="236.7,622.4 240.2,628.8 232.9,628.6" fill="#d4e6b0" stroke="#2c3a1c" stroke-width="1.2"/>
<polygon points="248.9,635.5 247.9,642.7 242.1,638.2" fill="#d4e6b0" stroke="#2c3a1c" stroke-width="1.2"/>
<polygon points="273.3,621.2 268.1,626.4 266.2,619.3" fill="#d4e6b0" stroke="#2c3a1c" stroke-width="1.2"/>
<polygon points="270.5,643.5 263.3,644.5 266.0,637.7" fill="#d4e6b0" stroke="#2c3a1c" stroke-width="1.2"/>
<polygon points="380.1,603.3 380.3,610.6 373.9,607.1" fill="#d4e6b0" stroke="#2c3a1c" stroke-width="1.2"/>
<polygon points="394.7,617.3 390.5,623.2 387.5,616.5" fill="#d4e6b0" stroke="#2c3a1c" stroke-width="1.2"/>
<polygon points="413.3,628.3 406.3,630.5 408.0,623.4" fill="#d4e6b0" stroke="#2c3a1c" stroke-width="1.2"/>
<polygon points="382.1,640.0 383.4,647.1 376.6,644.6" fill="#d4e6b0" stroke="#2c3a1c" stroke-width="1.2"/>
<polygon points="395.6,649.2 392.3,655.7 388.4,649.6" fill="#d4e6b0" stroke="#2c3a1c" stroke-width="1.2"/>
<polygon points="412.8,653.9 406.3,657.1 406.8,649.8" fill="#d4e6b0" stroke="#2c3a1c" stroke-width="1.2"/>
<polygon points="470.5,621.5 472.9,628.4 465.7,627.0" fill="#d4e6b0" stroke="#2c3a1c" stroke-width="1.2"/>
<polygon points="482.9,611.1 480.7,618.0 475.8,612.6" fill="#d4e6b0" stroke="#2c3a1c" stroke-width="1.2"/>
<polygon points="499.3,616.8 493.3,621.0 492.7,613.8" fill="#d4e6b0" stroke="#2c3a1c" stroke-width="1.2"/>
<polygon points="508.4,624.4 511.9,630.8 504.6,630.6" fill="#d4e6b0" stroke="#2c3a1c" stroke-width="1.2"/>
<polygon points="481.2,635.5 480.1,642.7 474.5,638.1" fill="#d4e6b0" stroke="#2c3a1c" stroke-width="1.2"/>
<polygon points="496.7,641.6 491.4,646.6 489.7,639.6" fill="#d4e6b0" stroke="#2c3a1c" stroke-width="1.2"/>
<polygon points="540.9,612.2 533.6,613.1 536.5,606.4" fill="#d4e6b0" stroke="#2c3a1c" stroke-width="1.2"/>
<polygon points="553.9,611.5 553.9,618.7 547.6,615.1" fill="#d4e6b0" stroke="#2c3a1c" stroke-width="1.2"/>
<polygon points="529.7,624.0 525.3,629.8 522.4,623.1" fill="#d4e6b0" stroke="#2c3a1c" stroke-width="1.2"/>
<polygon points="544.7,635.4 537.7,637.4 539.4,630.4" fill="#d4e6b0" stroke="#2c3a1c" stroke-width="1.2"/>
<polygon points="559.6,627.0 560.7,634.2 554.0,631.6" fill="#d4e6b0" stroke="#2c3a1c" stroke-width="1.2"/>
<polygon points="586.2,623.4 582.7,629.8 578.9,623.6" fill="#d4e6b0" stroke="#2c3a1c" stroke-width="1.2"/>
<polygon points="602.6,629.5 596.0,632.5 596.6,625.3" fill="#d4e6b0" stroke="#2c3a1c" stroke-width="1.2"/>
<polygon points="569.5,629.2 571.7,636.1 564.6,634.6" fill="#d4e6b0" stroke="#2c3a1c" stroke-width="1.2"/>
<polygon points="599.8,638.6 597.4,645.5 592.6,640.0" fill="#d4e6b0" stroke="#2c3a1c" stroke-width="1.2"/>
<polygon points="581.5,648.1 575.5,652.2 575.0,644.9" fill="#d4e6b0" stroke="#2c3a1c" stroke-width="1.2"/>
<g transform="translate(96.6,628.8) rotate(-65)"><path d="M13.5,0.0 l3.6,0.0 M13.0,1.4 l3.0,2.0 M11.7,2.7 l2.1,2.9 M9.5,3.9 l1.4,3.3 M6.8,4.8 l0.8,3.5 M3.5,5.3 l0.4,3.6 M0.0,5.5 l0.0,3.6 M-3.5,5.3 l-0.4,3.6 M-6.7,4.8 l-0.8,3.5 M-9.5,3.9 l-1.4,3.3 M-11.7,2.7 l-2.1,2.9 M-13.0,1.4 l-3.0,2.0 M-13.5,0.0 l-3.6,0.0 M-13.0,-1.4 l-3.0,-2.0 M-11.7,-2.8 l-2.1,-2.9 M-9.5,-3.9 l-1.4,-3.3 M-6.8,-4.8 l-0.8,-3.5 M-3.5,-5.3 l-0.4,-3.6 M-0.0,-5.5 l-0.0,-3.6 M3.5,-5.3 l0.4,-3.6 M6.8,-4.8 l0.8,-3.5 M9.5,-3.9 l1.4,-3.3 M11.7,-2.8 l2.1,-2.9 M13.0,-1.4 l3.0,-2.0" stroke="#a04848" stroke-width="0.8"/><ellipse rx="13.5" ry="5.5" fill="url(#bg1)" stroke="#5a2418" stroke-width="1.3"/><path d="M-13.5,0 q-3,-4 -6,0 t-6,0 t-6,0" fill="none" stroke="#111" stroke-width="1.4"/></g>
<g transform="translate(123.3,631.4) rotate(-65)"><path d="M13.5,0.0 l3.6,0.0 M13.0,1.4 l3.0,2.0 M11.7,2.7 l2.1,2.9 M9.5,3.9 l1.4,3.3 M6.8,4.8 l0.8,3.5 M3.5,5.3 l0.4,3.6 M0.0,5.5 l0.0,3.6 M-3.5,5.3 l-0.4,3.6 M-6.7,4.8 l-0.8,3.5 M-9.5,3.9 l-1.4,3.3 M-11.7,2.7 l-2.1,2.9 M-13.0,1.4 l-3.0,2.0 M-13.5,0.0 l-3.6,0.0 M-13.0,-1.4 l-3.0,-2.0 M-11.7,-2.8 l-2.1,-2.9 M-9.5,-3.9 l-1.4,-3.3 M-6.8,-4.8 l-0.8,-3.5 M-3.5,-5.3 l-0.4,-3.6 M-0.0,-5.5 l-0.0,-3.6 M3.5,-5.3 l0.4,-3.6 M6.8,-4.8 l0.8,-3.5 M9.5,-3.9 l1.4,-3.3 M11.7,-2.8 l2.1,-2.9 M13.0,-1.4 l3.0,-2.0" stroke="#a04848" stroke-width="0.8"/><ellipse rx="13.5" ry="5.5" fill="url(#bg1)" stroke="#5a2418" stroke-width="1.3"/><path d="M13.5,0 q3,-4 6,0 t6,0 t6,0" fill="none" stroke="#111" stroke-width="1.4"/></g>
<g transform="translate(160.7,633.9) rotate(-18)"><path d="M13.5,0.0 l3.6,0.0 M13.0,1.4 l3.0,2.0 M11.7,2.7 l2.1,2.9 M9.5,3.9 l1.4,3.3 M6.8,4.8 l0.8,3.5 M3.5,5.3 l0.4,3.6 M0.0,5.5 l0.0,3.6 M-3.5,5.3 l-0.4,3.6 M-6.7,4.8 l-0.8,3.5 M-9.5,3.9 l-1.4,3.3 M-11.7,2.7 l-2.1,2.9 M-13.0,1.4 l-3.0,2.0 M-13.5,0.0 l-3.6,0.0 M-13.0,-1.4 l-3.0,-2.0 M-11.7,-2.8 l-2.1,-2.9 M-9.5,-3.9 l-1.4,-3.3 M-6.8,-4.8 l-0.8,-3.5 M-3.5,-5.3 l-0.4,-3.6 M-0.0,-5.5 l-0.0,-3.6 M3.5,-5.3 l0.4,-3.6 M6.8,-4.8 l0.8,-3.5 M9.5,-3.9 l1.4,-3.3 M11.7,-2.8 l2.1,-2.9 M13.0,-1.4 l3.0,-2.0" stroke="#a04848" stroke-width="0.8"/><ellipse rx="13.5" ry="5.5" fill="url(#bg1)" stroke="#5a2418" stroke-width="1.3"/><path d="M13.5,0 q3,-4 6,0 t6,0 t6,0" fill="none" stroke="#111" stroke-width="1.4"/></g>
<g transform="translate(212.0,640.0) rotate(15)"><path d="M13.5,0.0 l3.6,0.0 M13.0,1.4 l3.0,2.0 M11.7,2.7 l2.1,2.9 M9.5,3.9 l1.4,3.3 M6.8,4.8 l0.8,3.5 M3.5,5.3 l0.4,3.6 M0.0,5.5 l0.0,3.6 M-3.5,5.3 l-0.4,3.6 M-6.7,4.8 l-0.8,3.5 M-9.5,3.9 l-1.4,3.3 M-11.7,2.7 l-2.1,2.9 M-13.0,1.4 l-3.0,2.0 M-13.5,0.0 l-3.6,0.0 M-13.0,-1.4 l-3.0,-2.0 M-11.7,-2.8 l-2.1,-2.9 M-9.5,-3.9 l-1.4,-3.3 M-6.8,-4.8 l-0.8,-3.5 M-3.5,-5.3 l-0.4,-3.6 M-0.0,-5.5 l-0.0,-3.6 M3.5,-5.3 l0.4,-3.6 M6.8,-4.8 l0.8,-3.5 M9.5,-3.9 l1.4,-3.3 M11.7,-2.8 l2.1,-2.9 M13.0,-1.4 l3.0,-2.0" stroke="#a04848" stroke-width="0.8"/><ellipse rx="13.5" ry="5.5" fill="url(#bg1)" stroke="#5a2418" stroke-width="1.3"/><path d="M13.5,0 q3,-4 6,0 t6,0 t6,0" fill="none" stroke="#111" stroke-width="1.4"/></g>
<g transform="translate(255.2,628.1) rotate(12)"><path d="M13.5,0.0 l3.6,0.0 M13.0,1.4 l3.0,2.0 M11.7,2.7 l2.1,2.9 M9.5,3.9 l1.4,3.3 M6.8,4.8 l0.8,3.5 M3.5,5.3 l0.4,3.6 M0.0,5.5 l0.0,3.6 M-3.5,5.3 l-0.4,3.6 M-6.7,4.8 l-0.8,3.5 M-9.5,3.9 l-1.4,3.3 M-11.7,2.7 l-2.1,2.9 M-13.0,1.4 l-3.0,2.0 M-13.5,0.0 l-3.6,0.0 M-13.0,-1.4 l-3.0,-2.0 M-11.7,-2.8 l-2.1,-2.9 M-9.5,-3.9 l-1.4,-3.3 M-6.8,-4.8 l-0.8,-3.5 M-3.5,-5.3 l-0.4,-3.6 M-0.0,-5.5 l-0.0,-3.6 M3.5,-5.3 l0.4,-3.6 M6.8,-4.8 l0.8,-3.5 M9.5,-3.9 l1.4,-3.3 M11.7,-2.8 l2.1,-2.9 M13.0,-1.4 l3.0,-2.0" stroke="#a04848" stroke-width="0.8"/><ellipse rx="13.5" ry="5.5" fill="url(#bg1)" stroke="#5a2418" stroke-width="1.3"/><path d="M13.5,0 q3,-4 6,0 t6,0 t6,0" fill="none" stroke="#111" stroke-width="1.4"/></g>
<g transform="translate(354.0,631.2) rotate(30)"><path d="M13.5,0.0 l3.6,0.0 M13.0,1.4 l3.0,2.0 M11.7,2.7 l2.1,2.9 M9.5,3.9 l1.4,3.3 M6.8,4.8 l0.8,3.5 M3.5,5.3 l0.4,3.6 M0.0,5.5 l0.0,3.6 M-3.5,5.3 l-0.4,3.6 M-6.7,4.8 l-0.8,3.5 M-9.5,3.9 l-1.4,3.3 M-11.7,2.7 l-2.1,2.9 M-13.0,1.4 l-3.0,2.0 M-13.5,0.0 l-3.6,0.0 M-13.0,-1.4 l-3.0,-2.0 M-11.7,-2.8 l-2.1,-2.9 M-9.5,-3.9 l-1.4,-3.3 M-6.8,-4.8 l-0.8,-3.5 M-3.5,-5.3 l-0.4,-3.6 M-0.0,-5.5 l-0.0,-3.6 M3.5,-5.3 l0.4,-3.6 M6.8,-4.8 l0.8,-3.5 M9.5,-3.9 l1.4,-3.3 M11.7,-2.8 l2.1,-2.9 M13.0,-1.4 l3.0,-2.0" stroke="#a04848" stroke-width="0.8"/><ellipse rx="13.5" ry="5.5" fill="url(#bg1)" stroke="#5a2418" stroke-width="1.3"/></g>
<g transform="translate(403.6,610.9) rotate(30)"><path d="M13.5,0.0 l3.6,0.0 M13.0,1.4 l3.0,2.0 M11.7,2.7 l2.1,2.9 M9.5,3.9 l1.4,3.3 M6.8,4.8 l0.8,3.5 M3.5,5.3 l0.4,3.6 M0.0,5.5 l0.0,3.6 M-3.5,5.3 l-0.4,3.6 M-6.7,4.8 l-0.8,3.5 M-9.5,3.9 l-1.4,3.3 M-11.7,2.7 l-2.1,2.9 M-13.0,1.4 l-3.0,2.0 M-13.5,0.0 l-3.6,0.0 M-13.0,-1.4 l-3.0,-2.0 M-11.7,-2.8 l-2.1,-2.9 M-9.5,-3.9 l-1.4,-3.3 M-6.8,-4.8 l-0.8,-3.5 M-3.5,-5.3 l-0.4,-3.6 M-0.0,-5.5 l-0.0,-3.6 M3.5,-5.3 l0.4,-3.6 M6.8,-4.8 l0.8,-3.5 M9.5,-3.9 l1.4,-3.3 M11.7,-2.8 l2.1,-2.9 M13.0,-1.4 l3.0,-2.0" stroke="#a04848" stroke-width="0.8"/><ellipse rx="13.5" ry="5.5" fill="url(#bg1)" stroke="#5a2418" stroke-width="1.3"/><path d="M-13.5,0 q-3,-4 -6,0 t-6,0 t-6,0" fill="none" stroke="#111" stroke-width="1.4"/></g>
<g transform="translate(397.2,636.3) rotate(25)"><path d="M13.5,0.0 l3.6,0.0 M13.0,1.4 l3.0,2.0 M11.7,2.7 l2.1,2.9 M9.5,3.9 l1.4,3.3 M6.8,4.8 l0.8,3.5 M3.5,5.3 l0.4,3.6 M0.0,5.5 l0.0,3.6 M-3.5,5.3 l-0.4,3.6 M-6.7,4.8 l-0.8,3.5 M-9.5,3.9 l-1.4,3.3 M-11.7,2.7 l-2.1,2.9 M-13.0,1.4 l-3.0,2.0 M-13.5,0.0 l-3.6,0.0 M-13.0,-1.4 l-3.0,-2.0 M-11.7,-2.8 l-2.1,-2.9 M-9.5,-3.9 l-1.4,-3.3 M-6.8,-4.8 l-0.8,-3.5 M-3.5,-5.3 l-0.4,-3.6 M-0.0,-5.5 l-0.0,-3.6 M3.5,-5.3 l0.4,-3.6 M6.8,-4.8 l0.8,-3.5 M9.5,-3.9 l1.4,-3.3 M11.7,-2.8 l2.1,-2.9 M13.0,-1.4 l3.0,-2.0" stroke="#a04848" stroke-width="0.8"/><ellipse rx="13.5" ry="5.5" fill="url(#bg1)" stroke="#5a2418" stroke-width="1.3"/><path d="M13.5,0 q3,-4 6,0 t6,0 t6,0" fill="none" stroke="#111" stroke-width="1.4"/></g>
<g transform="translate(450.6,629.2) rotate(20)"><path d="M13.5,0.0 l3.6,0.0 M13.0,1.4 l3.0,2.0 M11.7,2.7 l2.1,2.9 M9.5,3.9 l1.4,3.3 M6.8,4.8 l0.8,3.5 M3.5,5.3 l0.4,3.6 M0.0,5.5 l0.0,3.6 M-3.5,5.3 l-0.4,3.6 M-6.7,4.8 l-0.8,3.5 M-9.5,3.9 l-1.4,3.3 M-11.7,2.7 l-2.1,2.9 M-13.0,1.4 l-3.0,2.0 M-13.5,0.0 l-3.6,0.0 M-13.0,-1.4 l-3.0,-2.0 M-11.7,-2.8 l-2.1,-2.9 M-9.5,-3.9 l-1.4,-3.3 M-6.8,-4.8 l-0.8,-3.5 M-3.5,-5.3 l-0.4,-3.6 M-0.0,-5.5 l-0.0,-3.6 M3.5,-5.3 l0.4,-3.6 M6.8,-4.8 l0.8,-3.5 M9.5,-3.9 l1.4,-3.3 M11.7,-2.8 l2.1,-2.9 M13.0,-1.4 l3.0,-2.0" stroke="#a04848" stroke-width="0.8"/><ellipse rx="13.5" ry="5.5" fill="url(#bg1)" stroke="#5a2418" stroke-width="1.3"/><path d="M-13.5,0 q-3,-4 -6,0 t-6,0 t-6,0" fill="none" stroke="#111" stroke-width="1.4"/></g>
<g transform="translate(485.0,626.6) rotate(25)"><path d="M13.5,0.0 l3.6,0.0 M13.0,1.4 l3.0,2.0 M11.7,2.7 l2.1,2.9 M9.5,3.9 l1.4,3.3 M6.8,4.8 l0.8,3.5 M3.5,5.3 l0.4,3.6 M0.0,5.5 l0.0,3.6 M-3.5,5.3 l-0.4,3.6 M-6.7,4.8 l-0.8,3.5 M-9.5,3.9 l-1.4,3.3 M-11.7,2.7 l-2.1,2.9 M-13.0,1.4 l-3.0,2.0 M-13.5,0.0 l-3.6,0.0 M-13.0,-1.4 l-3.0,-2.0 M-11.7,-2.8 l-2.1,-2.9 M-9.5,-3.9 l-1.4,-3.3 M-6.8,-4.8 l-0.8,-3.5 M-3.5,-5.3 l-0.4,-3.6 M-0.0,-5.5 l-0.0,-3.6 M3.5,-5.3 l0.4,-3.6 M6.8,-4.8 l0.8,-3.5 M9.5,-3.9 l1.4,-3.3 M11.7,-2.8 l2.1,-2.9 M13.0,-1.4 l3.0,-2.0" stroke="#a04848" stroke-width="0.8"/><ellipse rx="13.5" ry="5.5" fill="url(#bg1)" stroke="#5a2418" stroke-width="1.3"/><path d="M13.5,0 q3,-4 6,0 t6,0 t6,0" fill="none" stroke="#111" stroke-width="1.4"/></g>
<g transform="translate(542.3,622.1) rotate(25)"><path d="M13.5,0.0 l3.6,0.0 M13.0,1.4 l3.0,2.0 M11.7,2.7 l2.1,2.9 M9.5,3.9 l1.4,3.3 M6.8,4.8 l0.8,3.5 M3.5,5.3 l0.4,3.6 M0.0,5.5 l0.0,3.6 M-3.5,5.3 l-0.4,3.6 M-6.7,4.8 l-0.8,3.5 M-9.5,3.9 l-1.4,3.3 M-11.7,2.7 l-2.1,2.9 M-13.0,1.4 l-3.0,2.0 M-13.5,0.0 l-3.6,0.0 M-13.0,-1.4 l-3.0,-2.0 M-11.7,-2.8 l-2.1,-2.9 M-9.5,-3.9 l-1.4,-3.3 M-6.8,-4.8 l-0.8,-3.5 M-3.5,-5.3 l-0.4,-3.6 M-0.0,-5.5 l-0.0,-3.6 M3.5,-5.3 l0.4,-3.6 M6.8,-4.8 l0.8,-3.5 M9.5,-3.9 l1.4,-3.3 M11.7,-2.8 l2.1,-2.9 M13.0,-1.4 l3.0,-2.0" stroke="#a04848" stroke-width="0.8"/><ellipse rx="13.5" ry="5.5" fill="url(#bg1)" stroke="#5a2418" stroke-width="1.3"/><path d="M-13.5,0 q-3,-4 -6,0 t-6,0 t-6,0" fill="none" stroke="#111" stroke-width="1.4"/></g>
<g transform="translate(584.3,636.1) rotate(-10)"><path d="M13.5,0.0 l3.6,0.0 M13.0,1.4 l3.0,2.0 M11.7,2.7 l2.1,2.9 M9.5,3.9 l1.4,3.3 M6.8,4.8 l0.8,3.5 M3.5,5.3 l0.4,3.6 M0.0,5.5 l0.0,3.6 M-3.5,5.3 l-0.4,3.6 M-6.7,4.8 l-0.8,3.5 M-9.5,3.9 l-1.4,3.3 M-11.7,2.7 l-2.1,2.9 M-13.0,1.4 l-3.0,2.0 M-13.5,0.0 l-3.6,0.0 M-13.0,-1.4 l-3.0,-2.0 M-11.7,-2.8 l-2.1,-2.9 M-9.5,-3.9 l-1.4,-3.3 M-6.8,-4.8 l-0.8,-3.5 M-3.5,-5.3 l-0.4,-3.6 M-0.0,-5.5 l-0.0,-3.6 M3.5,-5.3 l0.4,-3.6 M6.8,-4.8 l0.8,-3.5 M9.5,-3.9 l1.4,-3.3 M11.7,-2.8 l2.1,-2.9 M13.0,-1.4 l3.0,-2.0" stroke="#a04848" stroke-width="0.8"/><ellipse rx="13.5" ry="5.5" fill="url(#bg1)" stroke="#5a2418" stroke-width="1.3"/><path d="M-13.5,0 q-3,-4 -6,0 t-6,0 t-6,0" fill="none" stroke="#111" stroke-width="1.4"/></g>
<defs><radialGradient id="coc" cx="0.4" cy="0.35" r="0.7"><stop offset="0" stop-color="#7cc4ec"/><stop offset="1" stop-color="#3e98cc"/></radialGradient></defs>
<circle cx="23.5" cy="625" r="5" fill="url(#coc)" stroke="#2a7fb4" stroke-width="0.8"/>
<circle cx="28.5" cy="629.5" r="5" fill="url(#coc)" stroke="#2a7fb4" stroke-width="0.8"/>
<circle cx="32" cy="634.5" r="5" fill="url(#coc)" stroke="#2a7fb4" stroke-width="0.8"/>
<circle cx="34" cy="640" r="5" fill="url(#coc)" stroke="#2a7fb4" stroke-width="0.8"/>
<circle cx="37" cy="645.5" r="5" fill="url(#coc)" stroke="#2a7fb4" stroke-width="0.8"/>
<circle cx="42" cy="649.5" r="5" fill="url(#coc)" stroke="#2a7fb4" stroke-width="0.8"/>
<circle cx="51.5" cy="622.5" r="5" fill="url(#coc)" stroke="#2a7fb4" stroke-width="0.8"/>
<circle cx="56" cy="627.5" r="5" fill="url(#coc)" stroke="#2a7fb4" stroke-width="0.8"/>
<circle cx="58.5" cy="633" r="5" fill="url(#coc)" stroke="#2a7fb4" stroke-width="0.8"/>
<circle cx="59.5" cy="639" r="5" fill="url(#coc)" stroke="#2a7fb4" stroke-width="0.8"/>
<circle cx="61.5" cy="644.5" r="5" fill="url(#coc)" stroke="#2a7fb4" stroke-width="0.8"/>
<circle cx="65" cy="649.5" r="5" fill="url(#coc)" stroke="#2a7fb4" stroke-width="0.8"/>
<circle cx="356.5" cy="615.4" r="2.8" fill="#e8c0e0" stroke="#9a4090" stroke-width="0.8"/>
<circle cx="371.8" cy="623.6" r="2.8" fill="#e8c0e0" stroke="#9a4090" stroke-width="0.8"/>
<defs><radialGradient id="tx" cx="0.45" cy="0.45"><stop offset="0" stop-color="#d468d4"/><stop offset="0.55" stop-color="#a828ac"/><stop offset="1" stop-color="#9a1c9e"/></radialGradient></defs>
<defs><filter id="soft" x="-20%" y="-20%" width="140%" height="140%"><feGaussianBlur stdDeviation="0.6"/></filter></defs>
<polygon points="336.6,627.4 323.3,627.8 335.6,631.7 322.5,629.7 329.7,634.1 321.2,631.4 327.2,637.4 319.3,632.8 326.1,643.2 317.0,633.8 318.8,641.4 314.5,634.4 314.0,644.6 311.8,634.5 308.4,643.1 309.2,634.2 301.7,644.3 306.8,633.4 297.4,640.7 304.7,632.1 295.1,636.5 303.1,630.6 293.4,632.7 302.0,628.8 290.9,629.3 301.5,626.8 287.0,625.1 301.7,624.8 287.2,620.4 302.5,622.9 291.2,616.6 303.8,621.2 297.7,615.2 305.7,619.8 299.8,610.5 308.0,618.8 306.1,610.9 310.5,618.2 311.0,607.5 313.2,618.1 316.4,610.3 315.8,618.4 321.2,611.8 318.2,619.2 325.5,613.9 320.3,620.5 332.9,614.3 321.9,622.0 332.1,619.7 323.0,623.8 332.9,623.5 323.5,625.8" fill="#9a1c9e" filter="url(#soft)"/>
<ellipse cx="312.5" cy="626.3" rx="12.5" ry="10.0" fill="url(#tx)"/>
<polygon points="472.0,588.7 457.8,589.1 470.8,593.2 457.0,591.0 467.8,597.1 455.6,592.8 463.8,600.5 453.6,594.3 457.7,601.4 451.2,595.4 452.8,602.7 448.6,596.0 447.9,604.9 445.8,596.1 442.6,603.4 443.1,595.7 437.1,603.1 440.6,594.9 431.6,601.8 438.4,593.6 429.1,597.7 436.7,592.0 422.8,595.5 435.5,590.1 420.1,591.1 435.0,588.0 425.4,586.5 435.2,585.9 423.9,582.2 436.0,584.0 425.5,578.0 437.4,582.2 428.2,573.8 439.4,580.7 435.8,574.2 441.8,579.6 439.6,570.9 444.4,579.0 445.0,568.4 447.2,578.9 451.2,568.2 449.9,579.3 454.9,573.4 452.4,580.1 460.3,574.3 454.6,581.4 466.5,575.8 456.3,583.0 466.2,580.8 457.5,584.9 469.7,584.3 458.0,587.0" fill="#9a1c9e" filter="url(#soft)"/>
<ellipse cx="446.5" cy="587.5" rx="13.0" ry="10.4" fill="url(#tx)"/>
<path d="M613.5,639.8 L614.2,640.8 L615.1,641.1 L616.3,640.7 L617.8,639.7 L619.3,638.4 L620.8,637.2 L622.2,636.4 L623.3,636.2 L624.2,636.8 L624.8,638.0 L625.2,639.8 L625.5,641.8 L625.9,643.7 L626.5,645.0 L627.3,645.7 L628.4,645.6 L629.7,644.9 L631.2,643.7 L632.8,642.4 L634.2,641.3 L635.5,640.8 L636.5,641.0 L637.2,641.9 L637.7,643.5 L638.0,645.4 L638.4,647.4 L638.9,649.0 L639.5,650.1 L640.5,650.4 L641.7,649.9 L643.1,648.9 L644.7,647.6 L646.2,646.4 L647.6,645.6 L648.7,645.4 L649.5,646.0 L650.1,647.3 L650.5,649.1 L650.9,651.1 L651.3,652.9 L651.9,654.3 L652.7,654.9 L653.8,654.9 L655.1,654.1" fill="none" stroke="#25945a" stroke-width="5.6" stroke-linecap="round" stroke-linejoin="round"/>
<path d="M613.5,639.8 L614.2,640.8 L615.1,641.1 L616.3,640.7 L617.8,639.7 L619.3,638.4 L620.8,637.2 L622.2,636.4 L623.3,636.2 L624.2,636.8 L624.8,638.0 L625.2,639.8 L625.5,641.8 L625.9,643.7 L626.5,645.0 L627.3,645.7 L628.4,645.6 L629.7,644.9 L631.2,643.7 L632.8,642.4 L634.2,641.3 L635.5,640.8 L636.5,641.0 L637.2,641.9 L637.7,643.5 L638.0,645.4 L638.4,647.4 L638.9,649.0 L639.5,650.1 L640.5,650.4 L641.7,649.9 L643.1,648.9 L644.7,647.6 L646.2,646.4 L647.6,645.6 L648.7,645.4 L649.5,646.0 L650.1,647.3 L650.5,649.1 L650.9,651.1 L651.3,652.9 L651.9,654.3 L652.7,654.9 L653.8,654.9 L655.1,654.1" fill="none" stroke="#56c690" stroke-width="3" stroke-linecap="round" stroke-linejoin="round"/>
<circle cx="191.9" cy="531.2" r="3.2" fill="#66ac92"/>
<circle cx="196.1" cy="531.4" r="3.2" fill="#66ac92"/>
<circle cx="194.0" cy="534.6" r="3.2" fill="#66ac92"/>
<circle cx="189.4" cy="534.3" r="3.2" fill="#66ac92"/>
<circle cx="188.1" cy="531.1" r="3.2" fill="#66ac92"/>
<circle cx="190.1" cy="527.4" r="3.2" fill="#66ac92"/>
<circle cx="193.8" cy="527.5" r="3.2" fill="#66ac92"/>
<circle cx="197.9" cy="534.3" r="3.2" fill="#66ac92"/>
<circle cx="191.4" cy="537.2" r="3.2" fill="#66ac92"/>
<circle cx="185.6" cy="534.5" r="3.2" fill="#66ac92"/>
<circle cx="186.0" cy="527.5" r="3.2" fill="#66ac92"/>
<circle cx="192.0" cy="524.3" r="3.2" fill="#66ac92"/>
<circle cx="198.0" cy="527.5" r="3.2" fill="#66ac92"/>
<circle cx="191.9" cy="531.2" r="1.35" fill="#f2fbf6"/>
<circle cx="196.1" cy="531.4" r="1.35" fill="#f2fbf6"/>
<circle cx="194.0" cy="534.6" r="1.35" fill="#f2fbf6"/>
<circle cx="189.4" cy="534.3" r="1.35" fill="#f2fbf6"/>
<circle cx="188.1" cy="531.1" r="1.35" fill="#f2fbf6"/>
<circle cx="190.1" cy="527.4" r="1.35" fill="#f2fbf6"/>
<circle cx="193.8" cy="527.5" r="1.35" fill="#f2fbf6"/>
<circle cx="197.9" cy="534.3" r="1.35" fill="#f2fbf6"/>
<circle cx="191.4" cy="537.2" r="1.35" fill="#f2fbf6"/>
<circle cx="185.6" cy="534.5" r="1.35" fill="#f2fbf6"/>
<circle cx="186.0" cy="527.5" r="1.35" fill="#f2fbf6"/>
<circle cx="192.0" cy="524.3" r="1.35" fill="#f2fbf6"/>
<circle cx="198.0" cy="527.5" r="1.35" fill="#f2fbf6"/>
<circle cx="222.2" cy="529.7" r="3.2" fill="#66ac92"/>
<circle cx="226.0" cy="530.0" r="3.2" fill="#66ac92"/>
<circle cx="222.9" cy="533.1" r="3.2" fill="#66ac92"/>
<circle cx="219.3" cy="532.5" r="3.2" fill="#66ac92"/>
<circle cx="217.9" cy="528.9" r="3.2" fill="#66ac92"/>
<circle cx="220.5" cy="526.0" r="3.2" fill="#66ac92"/>
<circle cx="224.9" cy="526.5" r="3.2" fill="#66ac92"/>
<circle cx="227.3" cy="533.8" r="3.2" fill="#66ac92"/>
<circle cx="220.4" cy="535.7" r="3.2" fill="#66ac92"/>
<circle cx="215.6" cy="531.2" r="3.2" fill="#66ac92"/>
<circle cx="217.0" cy="525.3" r="3.2" fill="#66ac92"/>
<circle cx="223.7" cy="523.0" r="3.2" fill="#66ac92"/>
<circle cx="228.3" cy="527.6" r="3.2" fill="#66ac92"/>
<circle cx="222.2" cy="529.7" r="1.35" fill="#f2fbf6"/>
<circle cx="226.0" cy="530.0" r="1.35" fill="#f2fbf6"/>
<circle cx="222.9" cy="533.1" r="1.35" fill="#f2fbf6"/>
<circle cx="219.3" cy="532.5" r="1.35" fill="#f2fbf6"/>
<circle cx="217.9" cy="528.9" r="1.35" fill="#f2fbf6"/>
<circle cx="220.5" cy="526.0" r="1.35" fill="#f2fbf6"/>
<circle cx="224.9" cy="526.5" r="1.35" fill="#f2fbf6"/>
<circle cx="227.3" cy="533.8" r="1.35" fill="#f2fbf6"/>
<circle cx="220.4" cy="535.7" r="1.35" fill="#f2fbf6"/>
<circle cx="215.6" cy="531.2" r="1.35" fill="#f2fbf6"/>
<circle cx="217.0" cy="525.3" r="1.35" fill="#f2fbf6"/>
<circle cx="223.7" cy="523.0" r="1.35" fill="#f2fbf6"/>
<circle cx="228.3" cy="527.6" r="1.35" fill="#f2fbf6"/>
<circle cx="256.1" cy="529.7" r="3.2" fill="#66ac92"/>
<circle cx="260.1" cy="531.1" r="3.2" fill="#66ac92"/>
<circle cx="256.7" cy="533.7" r="3.2" fill="#66ac92"/>
<circle cx="252.6" cy="532.3" r="3.2" fill="#66ac92"/>
<circle cx="252.1" cy="528.5" r="3.2" fill="#66ac92"/>
<circle cx="255.4" cy="525.9" r="3.2" fill="#66ac92"/>
<circle cx="259.4" cy="528.0" r="3.2" fill="#66ac92"/>
<circle cx="260.1" cy="534.9" r="3.2" fill="#66ac92"/>
<circle cx="253.6" cy="536.3" r="3.2" fill="#66ac92"/>
<circle cx="249.3" cy="530.7" r="3.2" fill="#66ac92"/>
<circle cx="252.4" cy="524.5" r="3.2" fill="#66ac92"/>
<circle cx="259.2" cy="523.9" r="3.2" fill="#66ac92"/>
<circle cx="262.9" cy="528.9" r="3.2" fill="#66ac92"/>
<circle cx="256.1" cy="529.7" r="1.35" fill="#f2fbf6"/>
<circle cx="260.1" cy="531.1" r="1.35" fill="#f2fbf6"/>
<circle cx="256.7" cy="533.7" r="1.35" fill="#f2fbf6"/>
<circle cx="252.6" cy="532.3" r="1.35" fill="#f2fbf6"/>
<circle cx="252.1" cy="528.5" r="1.35" fill="#f2fbf6"/>
<circle cx="255.4" cy="525.9" r="1.35" fill="#f2fbf6"/>
<circle cx="259.4" cy="528.0" r="1.35" fill="#f2fbf6"/>
<circle cx="260.1" cy="534.9" r="1.35" fill="#f2fbf6"/>
<circle cx="253.6" cy="536.3" r="1.35" fill="#f2fbf6"/>
<circle cx="249.3" cy="530.7" r="1.35" fill="#f2fbf6"/>
<circle cx="252.4" cy="524.5" r="1.35" fill="#f2fbf6"/>
<circle cx="259.2" cy="523.9" r="1.35" fill="#f2fbf6"/>
<circle cx="262.9" cy="528.9" r="1.35" fill="#f2fbf6"/>
<circle cx="214.9" cy="547.7" r="3.2" fill="#66ac92"/>
<circle cx="218.2" cy="549.6" r="3.2" fill="#66ac92"/>
<circle cx="214.5" cy="550.9" r="3.2" fill="#66ac92"/>
<circle cx="211.8" cy="548.7" r="3.2" fill="#66ac92"/>
<circle cx="211.8" cy="545.1" r="3.2" fill="#66ac92"/>
<circle cx="215.4" cy="543.5" r="3.2" fill="#66ac92"/>
<circle cx="218.6" cy="545.9" r="3.2" fill="#66ac92"/>
<circle cx="217.8" cy="552.9" r="3.2" fill="#66ac92"/>
<circle cx="210.8" cy="552.4" r="3.2" fill="#66ac92"/>
<circle cx="208.0" cy="547.1" r="3.2" fill="#66ac92"/>
<circle cx="212.0" cy="541.2" r="3.2" fill="#66ac92"/>
<circle cx="218.9" cy="542.4" r="3.2" fill="#66ac92"/>
<circle cx="221.7" cy="547.9" r="3.2" fill="#66ac92"/>
<circle cx="214.9" cy="547.7" r="1.35" fill="#f2fbf6"/>
<circle cx="218.2" cy="549.6" r="1.35" fill="#f2fbf6"/>
<circle cx="214.5" cy="550.9" r="1.35" fill="#f2fbf6"/>
<circle cx="211.8" cy="548.7" r="1.35" fill="#f2fbf6"/>
<circle cx="211.8" cy="545.1" r="1.35" fill="#f2fbf6"/>
<circle cx="215.4" cy="543.5" r="1.35" fill="#f2fbf6"/>
<circle cx="218.6" cy="545.9" r="1.35" fill="#f2fbf6"/>
<circle cx="217.8" cy="552.9" r="1.35" fill="#f2fbf6"/>
<circle cx="210.8" cy="552.4" r="1.35" fill="#f2fbf6"/>
<circle cx="208.0" cy="547.1" r="1.35" fill="#f2fbf6"/>
<circle cx="212.0" cy="541.2" r="1.35" fill="#f2fbf6"/>
<circle cx="218.9" cy="542.4" r="1.35" fill="#f2fbf6"/>
<circle cx="221.7" cy="547.9" r="1.35" fill="#f2fbf6"/>
<circle cx="237.6" cy="546.4" r="3.2" fill="#66ac92"/>
<circle cx="240.2" cy="549.5" r="3.2" fill="#66ac92"/>
<circle cx="236.1" cy="550.2" r="3.2" fill="#66ac92"/>
<circle cx="233.9" cy="547.1" r="3.2" fill="#66ac92"/>
<circle cx="234.8" cy="543.9" r="3.2" fill="#66ac92"/>
<circle cx="238.4" cy="542.7" r="3.2" fill="#66ac92"/>
<circle cx="241.7" cy="545.5" r="3.2" fill="#66ac92"/>
<circle cx="239.5" cy="552.4" r="3.2" fill="#66ac92"/>
<circle cx="232.4" cy="550.6" r="3.2" fill="#66ac92"/>
<circle cx="230.9" cy="545.1" r="3.2" fill="#66ac92"/>
<circle cx="236.0" cy="540.5" r="3.2" fill="#66ac92"/>
<circle cx="242.5" cy="542.2" r="3.2" fill="#66ac92"/>
<circle cx="244.0" cy="548.1" r="3.2" fill="#66ac92"/>
<circle cx="237.6" cy="546.4" r="1.35" fill="#f2fbf6"/>
<circle cx="240.2" cy="549.5" r="1.35" fill="#f2fbf6"/>
<circle cx="236.1" cy="550.2" r="1.35" fill="#f2fbf6"/>
<circle cx="233.9" cy="547.1" r="1.35" fill="#f2fbf6"/>
<circle cx="234.8" cy="543.9" r="1.35" fill="#f2fbf6"/>
<circle cx="238.4" cy="542.7" r="1.35" fill="#f2fbf6"/>
<circle cx="241.7" cy="545.5" r="1.35" fill="#f2fbf6"/>
<circle cx="239.5" cy="552.4" r="1.35" fill="#f2fbf6"/>
<circle cx="232.4" cy="550.6" r="1.35" fill="#f2fbf6"/>
<circle cx="230.9" cy="545.1" r="1.35" fill="#f2fbf6"/>
<circle cx="236.0" cy="540.5" r="1.35" fill="#f2fbf6"/>
<circle cx="242.5" cy="542.2" r="1.35" fill="#f2fbf6"/>
<circle cx="244.0" cy="548.1" r="1.35" fill="#f2fbf6"/>
<path d="M302.2,536.2 L318.3,535.8 M311.8,536.0 l2.9,2.8 M318.3,535.8 l2.2,-2.0 M318.3,535.8 l2.4,1.9 M302.2,536.2 L312.2,543.8 M308.2,540.8 l0.2,4.0 M312.2,543.8 l3.0,0.1 M312.2,543.8 l0.4,3.0 M302.2,536.2 L304.4,548.0 M303.5,543.3 l-2.4,3.2 M304.4,548.0 l2.3,2.0 M304.4,548.0 l-1.5,2.6 M302.2,536.2 L291.3,545.4 M295.7,541.7 l-4.0,-0.1 M291.3,545.4 l-0.3,3.0 M291.3,545.4 l-3.0,0.3 M302.2,536.2 L288.1,535.7 M293.8,535.9 l-2.7,-3.0 M288.1,535.7 l-2.4,1.8 M288.1,535.7 l-2.2,-2.0 M302.2,536.2 L293.4,527.5 M296.9,531.0 l0.4,-4.0 M293.4,527.5 l-3.0,-0.5 M293.4,527.5 l-0.0,-3.0 M302.2,536.2 L302.2,523.3 M302.2,528.4 l2.9,-2.8 M302.2,523.3 l-1.9,-2.3 M302.2,523.3 l1.9,-2.3 M302.2,536.2 L314.8,530.2 M309.8,532.6 l3.8,1.1 M314.8,530.2 l1.1,-2.8 M314.8,530.2 l2.9,0.6" stroke="#a8bca2" stroke-width="1.5" fill="none" stroke-linecap="round"/>
<ellipse cx="302.2" cy="536.2" rx="7.5" ry="5.8" fill="#bcdcab"/>
<ellipse cx="302.7" cy="536.2" rx="3.8" ry="2.6" fill="#5a9a4c"/>
<path d="M291.5,559.2 L305.2,561.5 M299.7,560.6 l2.2,3.4 M305.2,561.5 l2.6,-1.4 M305.2,561.5 l1.9,2.3 M291.5,559.2 L303.6,565.3 M298.8,562.9 l0.9,3.9 M303.6,565.3 l3.0,-0.5 M303.6,565.3 l1.0,2.8 M291.5,559.2 L288.3,570.6 M289.6,566.1 l-3.4,2.0 M288.3,570.6 l1.3,2.7 M288.3,570.6 l-2.4,1.8 M291.5,559.2 L279.7,568.7 M284.4,564.9 l-4.0,-0.2 M279.7,568.7 l-0.3,3.0 M279.7,568.7 l-3.0,0.2 M291.5,559.2 L276.8,558.2 M282.7,558.6 l-2.5,-3.1 M276.8,558.2 l-2.4,1.7 M276.8,558.2 l-2.1,-2.1 M291.5,559.2 L281.1,548.5 M285.2,552.8 l0.4,-4.0 M281.1,548.5 l-3.0,-0.5 M281.1,548.5 l0.0,-3.0 M291.5,559.2 L293.1,547.9 M292.4,552.4 l3.2,-2.4 M293.1,547.9 l-1.7,-2.5 M293.1,547.9 l2.2,-2.1 M291.5,559.2 L299.0,551.0 M296.0,554.3 l4.0,-0.4 M299.0,551.0 l-0.1,-3.0 M299.0,551.0 l2.9,-0.6" stroke="#a8bca2" stroke-width="1.5" fill="none" stroke-linecap="round"/>
<ellipse cx="291.5" cy="559.2" rx="7.5" ry="5.8" fill="#bcdcab"/>
<ellipse cx="292.0" cy="559.2" rx="3.8" ry="2.6" fill="#5a9a4c"/>
<path d="M317.0,559.2 L330.5,558.6 M325.1,558.8 l2.9,2.7 M330.5,558.6 l2.2,-2.1 M330.5,558.6 l2.4,1.8 M317.0,559.2 L329.8,568.4 M324.7,564.7 l0.3,4.0 M329.8,568.4 l3.0,0.0 M329.8,568.4 l0.5,3.0 M317.0,559.2 L314.2,569.3 M315.3,565.3 l-3.4,2.0 M314.2,569.3 l1.4,2.7 M314.2,569.3 l-2.4,1.8 M317.0,559.2 L303.1,566.1 M308.6,563.3 l-3.8,-1.1 M303.1,566.1 l-1.0,2.8 M303.1,566.1 l-3.0,-0.5 M317.0,559.2 L300.7,561.6 M307.2,560.6 l-3.2,-2.3 M300.7,561.6 l-1.9,2.3 M300.7,561.6 l-2.6,-1.5 M317.0,559.2 L307.2,550.4 M311.1,553.9 l0.2,-4.0 M307.2,550.4 l-3.0,-0.4 M307.2,550.4 l-0.2,-3.0 M317.0,559.2 L313.6,547.3 M315.0,552.0 l2.1,-3.4 M313.6,547.3 l-2.4,-1.8 M313.6,547.3 l1.3,-2.7 M317.0,559.2 L326.3,548.2 M322.6,552.6 l4.0,-0.6 M326.3,548.2 l-0.2,-3.0 M326.3,548.2 l2.9,-0.7" stroke="#a8bca2" stroke-width="1.5" fill="none" stroke-linecap="round"/>
<ellipse cx="317" cy="559.2" rx="7.5" ry="5.8" fill="#bcdcab"/>
<ellipse cx="317.5" cy="559.2" rx="3.8" ry="2.6" fill="#5a9a4c"/>
<path d="M286,423 Q324.0,410.0 362,419 Q324.0,432.0 286,423 Z" fill="#d12626"/>
<path d="M300,428 Q339.5,408.5 379,411 Q339.5,430.5 300,428 Z" fill="#d82c2c"/>
<path d="M305,417 Q338.5,408.5 372,416 Q338.5,424.5 305,417 Z" fill="#cf2424"/>
<path d="M318,429 Q343.0,420.0 368,425 Q343.0,434.0 318,429 Z" fill="#d42828"/>
<path d="M296,421 Q319.0,414.0 342,423 Q319.0,430.0 296,421 Z" fill="#dc3030"/>
<ellipse cx="318" cy="421" rx="4" ry="1.8" fill="#ee6a6a" opacity="0.9"/>
<ellipse cx="337" cy="418.5" rx="4" ry="1.8" fill="#ee6a6a" opacity="0.9"/>
<ellipse cx="352" cy="424" rx="4" ry="1.8" fill="#ee6a6a" opacity="0.9"/>
<ellipse cx="357" cy="418" rx="4" ry="1.8" fill="#ee6a6a" opacity="0.9"/>
<path d="M539.5,539.1 l2.9,0.9 M532.6,544.2 l0.0,3.0 M525.6,539.3 l-2.8,1.0 M528.1,531.1 l-1.8,-2.4 M536.7,530.9 l1.7,-2.5" stroke="#777" stroke-width="1.2"/>
<circle cx="532.5" cy="536.9" r="7.3" fill="#d8643c" stroke="#a04020" stroke-width="0.8"/>
<ellipse cx="533.0" cy="537.4" rx="4.015000000000001" ry="3.285" fill="#b83420"/>
<path d="M560.0,546.2 l2.9,0.9 M552.2,552.0 l0.0,3.0 M544.2,546.4 l-2.8,1.0 M547.1,537.1 l-1.8,-2.4 M556.9,536.9 l1.7,-2.5" stroke="#777" stroke-width="1.2"/>
<circle cx="552.1" cy="543.7" r="8.3" fill="#f6dcc0" stroke="#b89070" stroke-width="0.8"/>
<ellipse cx="552.6" cy="544.2" rx="4.565" ry="3.7350000000000003" fill="#c84848"/>
<path d="M575.3,561.5 l2.9,0.9 M567.5,567.3 l0.0,3.0 M559.5,561.7 l-2.8,1.0 M562.4,552.4 l-1.8,-2.4 M572.2,552.2 l1.7,-2.5" stroke="#777" stroke-width="1.2"/>
<circle cx="567.4" cy="559" r="8.3" fill="#c8c04a" stroke="#808020" stroke-width="0.8"/>
<ellipse cx="567.9" cy="559.5" rx="4.565" ry="3.7350000000000003" fill="#a84a30"/>
<polygon points="591.4,538.6 589.8,541.0 590.0,543.9 587.4,545.1 586.1,547.7 583.3,547.5 580.9,549.1 578.5,547.5 575.6,547.7 574.4,545.1 571.8,543.9 572.0,541.0 570.4,538.6 572.0,536.2 571.8,533.4 574.4,532.1 575.6,529.5 578.5,529.7 580.9,528.1 583.3,529.7 586.1,529.5 587.4,532.1 590.0,533.4 589.8,536.2" fill="#3c54d4" stroke="#2a3aa0" stroke-width="0.8"/>
<circle cx="579" cy="537" r="4" fill="#5a72e8"/>
<text x="90.00" y="35.10" font-size="19.62" textLength="124.60" lengthAdjust="spacingAndGlyphs" fill="#ffffff">Hypothalamic</text>
<text x="86.20" y="80.90" font-size="20.35" textLength="73.01" lengthAdjust="spacingAndGlyphs" fill="#ffffff">Pituitary</text>
<text x="86.70" y="125.90" font-size="20.35" textLength="69.90" lengthAdjust="spacingAndGlyphs" fill="#ffffff">Adrenal</text>
<text x="189.80" y="75.60" font-size="14.97" textLength="30.40" lengthAdjust="spacingAndGlyphs" fill="#111111" font-weight="bold">HPA</text>
<text x="191.00" y="92.80" font-size="14.97" textLength="28.00" lengthAdjust="spacingAndGlyphs" fill="#111111" font-weight="bold">axis</text>
<text x="457.30" y="43.60" font-size="19.48" textLength="46.29" lengthAdjust="spacingAndGlyphs" fill="#111111">Brain</text>
<text x="457.30" y="69.00" font-size="19.48" textLength="144.10" lengthAdjust="spacingAndGlyphs" fill="#111111">Mood, Behavior</text>
<text x="129.90" y="195.90" font-size="18.46" textLength="79.10" lengthAdjust="spacingAndGlyphs" fill="#111111">Peripheral</text>
<text x="129.90" y="212.00" font-size="18.46" textLength="50.41" lengthAdjust="spacingAndGlyphs" fill="#111111">Vessel</text>
<text x="627.40" y="284.80" font-size="18.90" textLength="78.80" lengthAdjust="spacingAndGlyphs" fill="#111111">Peripheral</text>
<text x="627.40" y="300.50" font-size="18.90" textLength="49.81" lengthAdjust="spacingAndGlyphs" fill="#111111">Vessel</text>
<text x="156.50" y="313.60" font-size="17.88" textLength="36.70" lengthAdjust="spacingAndGlyphs" fill="#ffffff">5-HT</text>
<text x="132.30" y="340.60" font-size="18.02" textLength="105.71" lengthAdjust="spacingAndGlyphs" fill="#ffffff">Neuropeptide</text>
<text x="80.40" y="390.90" font-size="18.90" textLength="59.69" lengthAdjust="spacingAndGlyphs" fill="#111111">Cortisol</text>
<text x="69.50" y="424.50" font-size="18.31" textLength="87.99" lengthAdjust="spacingAndGlyphs" fill="#111111">Tryptophan</text>
<text x="66.40" y="457.10" font-size="18.90" textLength="90.10" lengthAdjust="spacingAndGlyphs" fill="#111111">Metabolism</text>
<text x="522.00" y="365.80" font-size="15.70" textLength="65.20" lengthAdjust="spacingAndGlyphs" fill="#ffffff">Histamine</text>
<text x="547.90" y="398.40" font-size="15.26" textLength="30.80" lengthAdjust="spacingAndGlyphs" fill="#ffffff">CRF</text>
<text x="607.20" y="448.10" font-size="15.84" textLength="56.39" lengthAdjust="spacingAndGlyphs" fill="#ffffff">Cytokine</text>
<text x="297.00" y="440.80" font-size="14.97" textLength="75.50" lengthAdjust="spacingAndGlyphs" fill="#111111">Muscle Cell</text>
<text x="159.50" y="499.80" font-size="17.30" textLength="69.01" lengthAdjust="spacingAndGlyphs" fill="#111111">Intestinal</text>
<text x="137.60" y="516.30" font-size="17.30" textLength="113.61" lengthAdjust="spacingAndGlyphs" fill="#111111">Endocrine Cell</text>
<text x="326.90" y="546.40" font-size="18.31" textLength="125.60" lengthAdjust="spacingAndGlyphs" fill="#111111">Enteric Neurons</text>
<text x="592.80" y="542.50" font-size="16.72" textLength="62.81" lengthAdjust="spacingAndGlyphs" fill="#111111">Immune</text>
<text x="599.20" y="559.20" font-size="16.72" textLength="27.89" lengthAdjust="spacingAndGlyphs" fill="#111111">Cell</text>
<text x="42.00" y="574.90" font-size="17.01" textLength="130.90" lengthAdjust="spacingAndGlyphs" fill="#1a1030">Neurotransmitter</text>
<text x="140.10" y="610.40" font-size="17.88" textLength="113.79" lengthAdjust="spacingAndGlyphs" fill="#111111">Gut Microbiota</text>
<text x="474.60" y="591.40" font-size="18.90" textLength="48.41" lengthAdjust="spacingAndGlyphs" fill="#111111">Toxins</text>
<text x="614.40" y="610.20" font-size="15.70" textLength="67.79" lengthAdjust="spacingAndGlyphs" fill="#111111">Bacterial</text>
<text x="614.40" y="627.10" font-size="15.70" textLength="68.61" lengthAdjust="spacingAndGlyphs" fill="#111111">Products</text>
<text x="68.60" y="695.40" font-size="15.84" textLength="98.69" lengthAdjust="spacingAndGlyphs" fill="#111111">Tight Junctions</text>
<text x="356.40" y="688.60" font-size="13.52" textLength="67.60" lengthAdjust="spacingAndGlyphs" fill="#111111">Leaky and</text>
<text x="356.40" y="701.60" font-size="13.52" textLength="55.61" lengthAdjust="spacingAndGlyphs" fill="#111111">Inflamed</text>
<text x="0" y="0" font-size="14.5" fill="#1c1c40" textLength="104.3" lengthAdjust="spacingAndGlyphs" transform="translate(71.3,178.4) rotate(113.5)">Neuroendocrine</text>
<text x="0" y="0" font-size="14.5" fill="#1c1c40" textLength="58.6" lengthAdjust="spacingAndGlyphs" transform="translate(47.2,194.2) rotate(113.5)">Pathway</text>
<text x="0" y="0" font-size="14.5" fill="#1c1c40" textLength="104" lengthAdjust="spacingAndGlyphs" transform="translate(368.8,181.7) rotate(70.5)">Vagus Pathway</text>
<text x="0" y="0" font-size="14.5" fill="#1c1c40" textLength="118.8" lengthAdjust="spacingAndGlyphs" transform="translate(496.7,108.25) rotate(49.5)">Immunoregulatory</text>
<text x="0" y="0" font-size="14.5" fill="#1c1c40" textLength="57" lengthAdjust="spacingAndGlyphs" transform="translate(505.5,141.9) rotate(49.5)">Pathway</text>
</svg>
</body></html>
